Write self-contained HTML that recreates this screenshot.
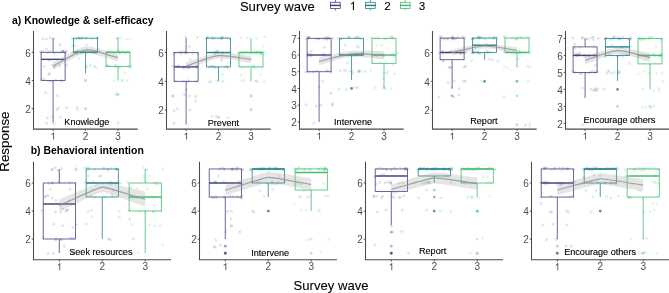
<!DOCTYPE html>
<html><head><meta charset="utf-8"><style>
html,body{margin:0;padding:0;background:#fff;}
body{width:669px;height:293px;overflow:hidden;}
svg{display:block;will-change:transform;}
text{font-family:"Liberation Sans", sans-serif;}
.tk{font-size:10px;fill:#4d4d4d;}
.lb{font-size:9.1px;fill:#000;stroke:#000;stroke-width:0.12px;}
.ti{font-size:10.45px;font-weight:bold;fill:#000;}
.big{font-size:13.1px;fill:#000;stroke:#000;stroke-width:0.1px;}
.lg{font-size:11.6px;fill:#000;stroke:#000;stroke-width:0.1px;}
</style></head><body>
<svg width="669" height="293" viewBox="0 0 669 293">
<rect width="669" height="293" fill="#fff"/>
<g><circle cx="54.08" cy="123.89" r="1.45" fill="#414487" fill-opacity="0.15"/>
<circle cx="51.29" cy="81.67" r="1.45" fill="#414487" fill-opacity="0.15"/>
<circle cx="42.85" cy="51.47" r="1.45" fill="#414487" fill-opacity="0.15"/>
<circle cx="50.28" cy="38" r="1.45" fill="#414487" fill-opacity="0.15"/>
<circle cx="47.37" cy="117.95" r="1.45" fill="#414487" fill-opacity="0.15"/>
<circle cx="44.4" cy="79.7" r="1.45" fill="#414487" fill-opacity="0.15"/>
<circle cx="41.18" cy="52.18" r="1.45" fill="#414487" fill-opacity="0.15"/>
<circle cx="48.03" cy="52.48" r="1.45" fill="#414487" fill-opacity="0.15"/>
<circle cx="58.52" cy="107.95" r="1.45" fill="#414487" fill-opacity="0.15"/>
<circle cx="59.35" cy="65.45" r="1.45" fill="#414487" fill-opacity="0.15"/>
<circle cx="60.11" cy="52.51" r="1.45" fill="#414487" fill-opacity="0.15"/>
<circle cx="60.31" cy="44.82" r="1.45" fill="#414487" fill-opacity="0.15"/>
<circle cx="55.67" cy="80" r="1.45" fill="#414487" fill-opacity="0.15"/>
<circle cx="52.39" cy="65.27" r="1.45" fill="#414487" fill-opacity="0.15"/>
<circle cx="66.54" cy="51.93" r="1.45" fill="#414487" fill-opacity="0.15"/>
<circle cx="40.09" cy="51.87" r="1.45" fill="#414487" fill-opacity="0.15"/>
<circle cx="60.41" cy="116.87" r="1.45" fill="#414487" fill-opacity="0.15"/>
<circle cx="41.67" cy="79.56" r="1.45" fill="#414487" fill-opacity="0.15"/>
<circle cx="63.02" cy="51.49" r="1.45" fill="#414487" fill-opacity="0.15"/>
<circle cx="65.58" cy="51.32" r="1.45" fill="#414487" fill-opacity="0.15"/>
<circle cx="52.69" cy="116.43" r="1.45" fill="#414487" fill-opacity="0.15"/>
<circle cx="49.54" cy="73.66" r="1.45" fill="#414487" fill-opacity="0.15"/>
<circle cx="56.31" cy="52.26" r="1.45" fill="#414487" fill-opacity="0.15"/>
<circle cx="63.31" cy="51.59" r="1.45" fill="#414487" fill-opacity="0.15"/>
<circle cx="56.76" cy="109.71" r="1.45" fill="#414487" fill-opacity="0.15"/>
<circle cx="48.74" cy="81.36" r="1.45" fill="#414487" fill-opacity="0.15"/>
<circle cx="49.38" cy="60.36" r="1.45" fill="#414487" fill-opacity="0.15"/>
<circle cx="46.35" cy="39.09" r="1.45" fill="#414487" fill-opacity="0.15"/>
<circle cx="66.54" cy="107.81" r="1.45" fill="#414487" fill-opacity="0.15"/>
<circle cx="48.81" cy="74.46" r="1.45" fill="#414487" fill-opacity="0.15"/>
<circle cx="65.39" cy="53.51" r="1.45" fill="#414487" fill-opacity="0.15"/>
<circle cx="53.87" cy="53.5" r="1.45" fill="#414487" fill-opacity="0.15"/>
<circle cx="46.59" cy="49.26" r="1.45" fill="#414487" fill-opacity="0.15"/>
<circle cx="60.71" cy="80.42" r="1.45" fill="#414487" fill-opacity="0.15"/>
<circle cx="62.71" cy="51.07" r="1.45" fill="#414487" fill-opacity="0.15"/>
<circle cx="53.58" cy="38.89" r="1.45" fill="#414487" fill-opacity="0.15"/>
<circle cx="46.54" cy="123.36" r="1.45" fill="#414487" fill-opacity="0.15"/>
<circle cx="66.4" cy="65.29" r="1.45" fill="#414487" fill-opacity="0.15"/>
<circle cx="45.65" cy="92.66" r="1.45" fill="#414487" fill-opacity="0.15"/>
<circle cx="62.38" cy="51.28" r="1.45" fill="#414487" fill-opacity="0.15"/>
<circle cx="57.48" cy="95.65" r="1.45" fill="#414487" fill-opacity="0.15"/>
<circle cx="44.34" cy="66.46" r="1.45" fill="#414487" fill-opacity="0.15"/>
<circle cx="50.26" cy="51.1" r="1.45" fill="#414487" fill-opacity="0.15"/>
<circle cx="42.93" cy="39.04" r="1.45" fill="#414487" fill-opacity="0.15"/>
<circle cx="62" cy="81.4" r="1.45" fill="#414487" fill-opacity="0.15"/>
<circle cx="54.43" cy="67.57" r="1.45" fill="#414487" fill-opacity="0.15"/>
<circle cx="86.27" cy="66.02" r="1.45" fill="#26838E" fill-opacity="0.15"/>
<circle cx="77.23" cy="107.47" r="1.45" fill="#26838E" fill-opacity="0.15"/>
<circle cx="92.74" cy="52.3" r="1.45" fill="#26838E" fill-opacity="0.15"/>
<circle cx="92.09" cy="39.31" r="1.45" fill="#26838E" fill-opacity="0.15"/>
<circle cx="94.47" cy="66.36" r="1.45" fill="#26838E" fill-opacity="0.15"/>
<circle cx="95.71" cy="52.27" r="1.45" fill="#26838E" fill-opacity="0.15"/>
<circle cx="75.78" cy="39.09" r="1.45" fill="#26838E" fill-opacity="0.15"/>
<circle cx="86.39" cy="37.74" r="1.45" fill="#26838E" fill-opacity="0.15"/>
<circle cx="77.14" cy="53.42" r="1.45" fill="#26838E" fill-opacity="0.15"/>
<circle cx="96.29" cy="53.5" r="1.45" fill="#26838E" fill-opacity="0.15"/>
<circle cx="77.36" cy="52.03" r="1.45" fill="#26838E" fill-opacity="0.15"/>
<circle cx="78.67" cy="38.18" r="1.45" fill="#26838E" fill-opacity="0.15"/>
<circle cx="96.26" cy="51.23" r="1.45" fill="#26838E" fill-opacity="0.15"/>
<circle cx="80.53" cy="52.57" r="1.45" fill="#26838E" fill-opacity="0.15"/>
<circle cx="75.26" cy="45.75" r="1.45" fill="#26838E" fill-opacity="0.15"/>
<circle cx="78.82" cy="38.54" r="1.45" fill="#26838E" fill-opacity="0.15"/>
<circle cx="96.04" cy="67.43" r="1.45" fill="#26838E" fill-opacity="0.15"/>
<circle cx="99.02" cy="51.78" r="1.45" fill="#26838E" fill-opacity="0.15"/>
<circle cx="81.9" cy="53.34" r="1.45" fill="#26838E" fill-opacity="0.15"/>
<circle cx="86.03" cy="38.49" r="1.45" fill="#26838E" fill-opacity="0.15"/>
<circle cx="78.15" cy="51.24" r="1.45" fill="#26838E" fill-opacity="0.15"/>
<circle cx="76.87" cy="51.27" r="1.45" fill="#26838E" fill-opacity="0.15"/>
<circle cx="97.71" cy="37.75" r="1.45" fill="#26838E" fill-opacity="0.15"/>
<circle cx="80.84" cy="38.21" r="1.45" fill="#26838E" fill-opacity="0.15"/>
<circle cx="79.25" cy="58.35" r="1.45" fill="#26838E" fill-opacity="0.15"/>
<circle cx="77.98" cy="52.03" r="1.45" fill="#26838E" fill-opacity="0.15"/>
<circle cx="83.31" cy="51.05" r="1.45" fill="#26838E" fill-opacity="0.15"/>
<circle cx="97.49" cy="37.67" r="1.45" fill="#26838E" fill-opacity="0.15"/>
<circle cx="77.42" cy="109.84" r="1.45" fill="#26838E" fill-opacity="0.15"/>
<circle cx="85.55" cy="52.83" r="1.45" fill="#26838E" fill-opacity="0.15"/>
<circle cx="72.34" cy="45.88" r="1.45" fill="#26838E" fill-opacity="0.15"/>
<circle cx="97.4" cy="38.26" r="1.45" fill="#26838E" fill-opacity="0.15"/>
<circle cx="94.67" cy="52.31" r="1.45" fill="#26838E" fill-opacity="0.15"/>
<circle cx="81.26" cy="51.08" r="1.45" fill="#26838E" fill-opacity="0.15"/>
<circle cx="81.39" cy="38.44" r="1.45" fill="#26838E" fill-opacity="0.15"/>
<circle cx="78.89" cy="37.59" r="1.45" fill="#26838E" fill-opacity="0.15"/>
<circle cx="90.2" cy="65.46" r="1.45" fill="#26838E" fill-opacity="0.15"/>
<circle cx="76.22" cy="52.4" r="1.45" fill="#26838E" fill-opacity="0.15"/>
<circle cx="86.83" cy="51.1" r="1.45" fill="#26838E" fill-opacity="0.15"/>
<circle cx="71.95" cy="38.56" r="1.45" fill="#26838E" fill-opacity="0.15"/>
<circle cx="85.68" cy="67.16" r="1.45" fill="#26838E" fill-opacity="0.15"/>
<circle cx="73.06" cy="52.56" r="1.45" fill="#26838E" fill-opacity="0.15"/>
<circle cx="86.35" cy="45.03" r="1.45" fill="#26838E" fill-opacity="0.15"/>
<circle cx="82.54" cy="37.24" r="1.45" fill="#26838E" fill-opacity="0.15"/>
<circle cx="89.45" cy="51.73" r="1.45" fill="#26838E" fill-opacity="0.15"/>
<circle cx="91.92" cy="51.98" r="1.45" fill="#26838E" fill-opacity="0.15"/>
<circle cx="127.13" cy="80.49" r="1.45" fill="#43BF71" fill-opacity="0.15"/>
<circle cx="122.99" cy="51.3" r="1.45" fill="#43BF71" fill-opacity="0.15"/>
<circle cx="114.2" cy="53.23" r="1.45" fill="#43BF71" fill-opacity="0.15"/>
<circle cx="121.44" cy="37.88" r="1.45" fill="#43BF71" fill-opacity="0.15"/>
<circle cx="124.77" cy="72.69" r="1.45" fill="#43BF71" fill-opacity="0.15"/>
<circle cx="124.45" cy="53.4" r="1.45" fill="#43BF71" fill-opacity="0.15"/>
<circle cx="109.96" cy="51.72" r="1.45" fill="#43BF71" fill-opacity="0.15"/>
<circle cx="117.43" cy="38.5" r="1.45" fill="#43BF71" fill-opacity="0.15"/>
<circle cx="106.48" cy="66.04" r="1.45" fill="#43BF71" fill-opacity="0.15"/>
<circle cx="119.85" cy="66.9" r="1.45" fill="#43BF71" fill-opacity="0.15"/>
<circle cx="123.24" cy="51.86" r="1.45" fill="#43BF71" fill-opacity="0.15"/>
<circle cx="117.08" cy="52.39" r="1.45" fill="#43BF71" fill-opacity="0.15"/>
<circle cx="129.89" cy="65.19" r="1.45" fill="#43BF71" fill-opacity="0.15"/>
<circle cx="116.62" cy="65.21" r="1.45" fill="#43BF71" fill-opacity="0.15"/>
<circle cx="120.22" cy="53.03" r="1.45" fill="#43BF71" fill-opacity="0.15"/>
<circle cx="126.73" cy="39.13" r="1.45" fill="#43BF71" fill-opacity="0.15"/>
<circle cx="128.84" cy="67.08" r="1.45" fill="#43BF71" fill-opacity="0.15"/>
<circle cx="116.66" cy="66.42" r="1.45" fill="#43BF71" fill-opacity="0.15"/>
<circle cx="127.27" cy="52.77" r="1.45" fill="#43BF71" fill-opacity="0.15"/>
<circle cx="129.62" cy="39.16" r="1.45" fill="#43BF71" fill-opacity="0.15"/>
<circle cx="115.08" cy="66.72" r="1.45" fill="#43BF71" fill-opacity="0.15"/>
<circle cx="116.04" cy="94.95" r="1.45" fill="#43BF71" fill-opacity="0.15"/>
<circle cx="112.16" cy="51.45" r="1.45" fill="#43BF71" fill-opacity="0.15"/>
<circle cx="116.26" cy="93.4" r="1.45" fill="#43BF71" fill-opacity="0.15"/>
<circle cx="105.16" cy="66.58" r="1.45" fill="#43BF71" fill-opacity="0.15"/>
<circle cx="109.92" cy="66.26" r="1.45" fill="#43BF71" fill-opacity="0.15"/>
<circle cx="108.15" cy="52.01" r="1.45" fill="#43BF71" fill-opacity="0.15"/>
<circle cx="109.03" cy="52.17" r="1.45" fill="#43BF71" fill-opacity="0.15"/>
<circle cx="122.17" cy="79.89" r="1.45" fill="#43BF71" fill-opacity="0.15"/>
<circle cx="107.63" cy="65.97" r="1.45" fill="#43BF71" fill-opacity="0.15"/>
<circle cx="119.37" cy="51.51" r="1.45" fill="#43BF71" fill-opacity="0.15"/>
<circle cx="119.3" cy="52.48" r="1.45" fill="#43BF71" fill-opacity="0.15"/>
<circle cx="114.41" cy="80.96" r="1.45" fill="#43BF71" fill-opacity="0.15"/>
<circle cx="114.81" cy="65.46" r="1.45" fill="#43BF71" fill-opacity="0.15"/>
<circle cx="117.95" cy="51.66" r="1.45" fill="#43BF71" fill-opacity="0.15"/>
<circle cx="125.91" cy="52.23" r="1.45" fill="#43BF71" fill-opacity="0.15"/>
<circle cx="121.97" cy="80.79" r="1.45" fill="#43BF71" fill-opacity="0.15"/>
<circle cx="107.84" cy="65.21" r="1.45" fill="#43BF71" fill-opacity="0.15"/>
<circle cx="117.72" cy="51.11" r="1.45" fill="#43BF71" fill-opacity="0.15"/>
<circle cx="117.13" cy="38.13" r="1.45" fill="#43BF71" fill-opacity="0.15"/>
<circle cx="130.86" cy="67.28" r="1.45" fill="#43BF71" fill-opacity="0.15"/>
<circle cx="128.76" cy="51.42" r="1.45" fill="#43BF71" fill-opacity="0.15"/>
<circle cx="119.89" cy="53.25" r="1.45" fill="#43BF71" fill-opacity="0.15"/>
<circle cx="118.77" cy="37.88" r="1.45" fill="#43BF71" fill-opacity="0.15"/>
<circle cx="130.09" cy="66.91" r="1.45" fill="#43BF71" fill-opacity="0.15"/>
<circle cx="119.02" cy="67.67" r="1.45" fill="#43BF71" fill-opacity="0.15"/>
<circle cx="195.35" cy="100.9" r="1.45" fill="#414487" fill-opacity="0.15"/>
<circle cx="183.7" cy="68.12" r="1.45" fill="#414487" fill-opacity="0.15"/>
<circle cx="190.11" cy="65.9" r="1.45" fill="#414487" fill-opacity="0.15"/>
<circle cx="185.91" cy="52.84" r="1.45" fill="#414487" fill-opacity="0.15"/>
<circle cx="172.66" cy="95.97" r="1.45" fill="#414487" fill-opacity="0.15"/>
<circle cx="177.93" cy="66.91" r="1.45" fill="#414487" fill-opacity="0.15"/>
<circle cx="196.71" cy="67.51" r="1.45" fill="#414487" fill-opacity="0.15"/>
<circle cx="185.69" cy="37.07" r="1.45" fill="#414487" fill-opacity="0.15"/>
<circle cx="173.95" cy="123.41" r="1.45" fill="#414487" fill-opacity="0.15"/>
<circle cx="177.49" cy="66.36" r="1.45" fill="#414487" fill-opacity="0.15"/>
<circle cx="174.63" cy="53.5" r="1.45" fill="#414487" fill-opacity="0.15"/>
<circle cx="185.22" cy="52.44" r="1.45" fill="#414487" fill-opacity="0.15"/>
<circle cx="184.53" cy="94.44" r="1.45" fill="#414487" fill-opacity="0.15"/>
<circle cx="196.6" cy="81.51" r="1.45" fill="#414487" fill-opacity="0.15"/>
<circle cx="180.89" cy="51.8" r="1.45" fill="#414487" fill-opacity="0.15"/>
<circle cx="187.23" cy="53.29" r="1.45" fill="#414487" fill-opacity="0.15"/>
<circle cx="189.69" cy="110.17" r="1.45" fill="#414487" fill-opacity="0.15"/>
<circle cx="185.12" cy="67.22" r="1.45" fill="#414487" fill-opacity="0.15"/>
<circle cx="188.98" cy="68.03" r="1.45" fill="#414487" fill-opacity="0.15"/>
<circle cx="192.82" cy="53.68" r="1.45" fill="#414487" fill-opacity="0.15"/>
<circle cx="188.7" cy="80.73" r="1.45" fill="#414487" fill-opacity="0.15"/>
<circle cx="175.39" cy="66.05" r="1.45" fill="#414487" fill-opacity="0.15"/>
<circle cx="197.37" cy="66.15" r="1.45" fill="#414487" fill-opacity="0.15"/>
<circle cx="197.85" cy="53.77" r="1.45" fill="#414487" fill-opacity="0.15"/>
<circle cx="195.95" cy="96.38" r="1.45" fill="#414487" fill-opacity="0.15"/>
<circle cx="183.15" cy="66.87" r="1.45" fill="#414487" fill-opacity="0.15"/>
<circle cx="187.32" cy="66.95" r="1.45" fill="#414487" fill-opacity="0.15"/>
<circle cx="189.5" cy="46.41" r="1.45" fill="#414487" fill-opacity="0.15"/>
<circle cx="177.19" cy="108.88" r="1.45" fill="#414487" fill-opacity="0.15"/>
<circle cx="187.15" cy="81.99" r="1.45" fill="#414487" fill-opacity="0.15"/>
<circle cx="180.09" cy="53.03" r="1.45" fill="#414487" fill-opacity="0.15"/>
<circle cx="177.53" cy="52.66" r="1.45" fill="#414487" fill-opacity="0.15"/>
<circle cx="174.24" cy="110.91" r="1.45" fill="#414487" fill-opacity="0.15"/>
<circle cx="175.21" cy="80.91" r="1.45" fill="#414487" fill-opacity="0.15"/>
<circle cx="178.77" cy="65.91" r="1.45" fill="#414487" fill-opacity="0.15"/>
<circle cx="173.84" cy="53.19" r="1.45" fill="#414487" fill-opacity="0.15"/>
<circle cx="186.45" cy="89.6" r="1.45" fill="#414487" fill-opacity="0.15"/>
<circle cx="172.64" cy="66.47" r="1.45" fill="#414487" fill-opacity="0.15"/>
<circle cx="181.74" cy="53.7" r="1.45" fill="#414487" fill-opacity="0.15"/>
<circle cx="197.38" cy="37.5" r="1.45" fill="#414487" fill-opacity="0.15"/>
<circle cx="189.4" cy="96.03" r="1.45" fill="#414487" fill-opacity="0.15"/>
<circle cx="183.6" cy="81.34" r="1.45" fill="#414487" fill-opacity="0.15"/>
<circle cx="190.27" cy="59.61" r="1.45" fill="#414487" fill-opacity="0.15"/>
<circle cx="183.86" cy="52.07" r="1.45" fill="#414487" fill-opacity="0.15"/>
<circle cx="172.97" cy="95.92" r="1.45" fill="#414487" fill-opacity="0.15"/>
<circle cx="183.51" cy="67.18" r="1.45" fill="#414487" fill-opacity="0.15"/>
<circle cx="216.47" cy="116.26" r="1.45" fill="#26838E" fill-opacity="0.15"/>
<circle cx="209.35" cy="67" r="1.45" fill="#26838E" fill-opacity="0.15"/>
<circle cx="207.35" cy="37.04" r="1.45" fill="#26838E" fill-opacity="0.15"/>
<circle cx="212.64" cy="39.02" r="1.45" fill="#26838E" fill-opacity="0.15"/>
<circle cx="226.86" cy="66.92" r="1.45" fill="#26838E" fill-opacity="0.15"/>
<circle cx="227.74" cy="117.81" r="1.45" fill="#26838E" fill-opacity="0.15"/>
<circle cx="222.27" cy="37.82" r="1.45" fill="#26838E" fill-opacity="0.15"/>
<circle cx="222.37" cy="37.09" r="1.45" fill="#26838E" fill-opacity="0.15"/>
<circle cx="217.81" cy="67.69" r="1.45" fill="#26838E" fill-opacity="0.15"/>
<circle cx="214.71" cy="67.79" r="1.45" fill="#26838E" fill-opacity="0.15"/>
<circle cx="229.01" cy="38.9" r="1.45" fill="#26838E" fill-opacity="0.15"/>
<circle cx="215.55" cy="38.56" r="1.45" fill="#26838E" fill-opacity="0.15"/>
<circle cx="213.32" cy="66.51" r="1.45" fill="#26838E" fill-opacity="0.15"/>
<circle cx="209.79" cy="66.89" r="1.45" fill="#26838E" fill-opacity="0.15"/>
<circle cx="221.78" cy="38.24" r="1.45" fill="#26838E" fill-opacity="0.15"/>
<circle cx="206.75" cy="38.36" r="1.45" fill="#26838E" fill-opacity="0.15"/>
<circle cx="222.83" cy="81.29" r="1.45" fill="#26838E" fill-opacity="0.15"/>
<circle cx="224.56" cy="67.38" r="1.45" fill="#26838E" fill-opacity="0.15"/>
<circle cx="226.3" cy="37.7" r="1.45" fill="#26838E" fill-opacity="0.15"/>
<circle cx="207.91" cy="37.6" r="1.45" fill="#26838E" fill-opacity="0.15"/>
<circle cx="226.59" cy="66.09" r="1.45" fill="#26838E" fill-opacity="0.15"/>
<circle cx="221.56" cy="58.84" r="1.45" fill="#26838E" fill-opacity="0.15"/>
<circle cx="217.36" cy="51.45" r="1.45" fill="#26838E" fill-opacity="0.15"/>
<circle cx="221.71" cy="37.86" r="1.45" fill="#26838E" fill-opacity="0.15"/>
<circle cx="222.27" cy="74.35" r="1.45" fill="#26838E" fill-opacity="0.15"/>
<circle cx="212.13" cy="66.14" r="1.45" fill="#26838E" fill-opacity="0.15"/>
<circle cx="217.27" cy="51.29" r="1.45" fill="#26838E" fill-opacity="0.15"/>
<circle cx="219.52" cy="38.74" r="1.45" fill="#26838E" fill-opacity="0.15"/>
<circle cx="214.98" cy="67.22" r="1.45" fill="#26838E" fill-opacity="0.15"/>
<circle cx="221.69" cy="60.4" r="1.45" fill="#26838E" fill-opacity="0.15"/>
<circle cx="211.84" cy="116.47" r="1.45" fill="#26838E" fill-opacity="0.15"/>
<circle cx="213.44" cy="37.68" r="1.45" fill="#26838E" fill-opacity="0.15"/>
<circle cx="216.7" cy="81" r="1.45" fill="#26838E" fill-opacity="0.15"/>
<circle cx="222.72" cy="53.21" r="1.45" fill="#26838E" fill-opacity="0.15"/>
<circle cx="214.66" cy="53.52" r="1.45" fill="#26838E" fill-opacity="0.15"/>
<circle cx="221.93" cy="38.87" r="1.45" fill="#26838E" fill-opacity="0.15"/>
<circle cx="208.99" cy="81.96" r="1.45" fill="#26838E" fill-opacity="0.15"/>
<circle cx="215.88" cy="51.77" r="1.45" fill="#26838E" fill-opacity="0.15"/>
<circle cx="214.47" cy="52.34" r="1.45" fill="#26838E" fill-opacity="0.15"/>
<circle cx="211.69" cy="37.49" r="1.45" fill="#26838E" fill-opacity="0.15"/>
<circle cx="211.4" cy="81.54" r="1.45" fill="#26838E" fill-opacity="0.15"/>
<circle cx="230.57" cy="52.37" r="1.45" fill="#26838E" fill-opacity="0.15"/>
<circle cx="222.41" cy="52.48" r="1.45" fill="#26838E" fill-opacity="0.15"/>
<circle cx="206.24" cy="38.62" r="1.45" fill="#26838E" fill-opacity="0.15"/>
<circle cx="227.94" cy="68.18" r="1.45" fill="#26838E" fill-opacity="0.15"/>
<circle cx="211.08" cy="67.02" r="1.45" fill="#26838E" fill-opacity="0.15"/>
<circle cx="257.81" cy="81.73" r="1.45" fill="#43BF71" fill-opacity="0.15"/>
<circle cx="252.47" cy="53.11" r="1.45" fill="#43BF71" fill-opacity="0.15"/>
<circle cx="254.87" cy="53.11" r="1.45" fill="#43BF71" fill-opacity="0.15"/>
<circle cx="251.2" cy="96.77" r="1.45" fill="#43BF71" fill-opacity="0.15"/>
<circle cx="241.71" cy="67.67" r="1.45" fill="#43BF71" fill-opacity="0.15"/>
<circle cx="247.71" cy="66.64" r="1.45" fill="#43BF71" fill-opacity="0.15"/>
<circle cx="251.99" cy="51.61" r="1.45" fill="#43BF71" fill-opacity="0.15"/>
<circle cx="263.42" cy="46.53" r="1.45" fill="#43BF71" fill-opacity="0.15"/>
<circle cx="253.33" cy="67.18" r="1.45" fill="#43BF71" fill-opacity="0.15"/>
<circle cx="254.32" cy="67.91" r="1.45" fill="#43BF71" fill-opacity="0.15"/>
<circle cx="241.14" cy="53.72" r="1.45" fill="#43BF71" fill-opacity="0.15"/>
<circle cx="260.72" cy="53.67" r="1.45" fill="#43BF71" fill-opacity="0.15"/>
<circle cx="255.47" cy="81.21" r="1.45" fill="#43BF71" fill-opacity="0.15"/>
<circle cx="244.09" cy="52.8" r="1.45" fill="#43BF71" fill-opacity="0.15"/>
<circle cx="257.92" cy="51.43" r="1.45" fill="#43BF71" fill-opacity="0.15"/>
<circle cx="240.99" cy="38.16" r="1.45" fill="#43BF71" fill-opacity="0.15"/>
<circle cx="244.49" cy="67.32" r="1.45" fill="#43BF71" fill-opacity="0.15"/>
<circle cx="262.18" cy="51.83" r="1.45" fill="#43BF71" fill-opacity="0.15"/>
<circle cx="257.7" cy="53.05" r="1.45" fill="#43BF71" fill-opacity="0.15"/>
<circle cx="250.15" cy="53.54" r="1.45" fill="#43BF71" fill-opacity="0.15"/>
<circle cx="253.03" cy="66.05" r="1.45" fill="#43BF71" fill-opacity="0.15"/>
<circle cx="257.83" cy="67.45" r="1.45" fill="#43BF71" fill-opacity="0.15"/>
<circle cx="259.87" cy="51.99" r="1.45" fill="#43BF71" fill-opacity="0.15"/>
<circle cx="251.41" cy="108.91" r="1.45" fill="#43BF71" fill-opacity="0.15"/>
<circle cx="243.68" cy="80.16" r="1.45" fill="#43BF71" fill-opacity="0.15"/>
<circle cx="264.39" cy="52.53" r="1.45" fill="#43BF71" fill-opacity="0.15"/>
<circle cx="262.68" cy="53.55" r="1.45" fill="#43BF71" fill-opacity="0.15"/>
<circle cx="247.51" cy="37.72" r="1.45" fill="#43BF71" fill-opacity="0.15"/>
<circle cx="264.15" cy="82.15" r="1.45" fill="#43BF71" fill-opacity="0.15"/>
<circle cx="256.16" cy="52.26" r="1.45" fill="#43BF71" fill-opacity="0.15"/>
<circle cx="261.03" cy="52.44" r="1.45" fill="#43BF71" fill-opacity="0.15"/>
<circle cx="256.15" cy="38.2" r="1.45" fill="#43BF71" fill-opacity="0.15"/>
<circle cx="256.36" cy="80.93" r="1.45" fill="#43BF71" fill-opacity="0.15"/>
<circle cx="254.2" cy="66.05" r="1.45" fill="#43BF71" fill-opacity="0.15"/>
<circle cx="246.87" cy="52.23" r="1.45" fill="#43BF71" fill-opacity="0.15"/>
<circle cx="264.49" cy="36.92" r="1.45" fill="#43BF71" fill-opacity="0.15"/>
<circle cx="241.41" cy="75" r="1.45" fill="#43BF71" fill-opacity="0.15"/>
<circle cx="262.21" cy="67.91" r="1.45" fill="#43BF71" fill-opacity="0.15"/>
<circle cx="260.66" cy="53.76" r="1.45" fill="#43BF71" fill-opacity="0.15"/>
<circle cx="237.97" cy="53.03" r="1.45" fill="#43BF71" fill-opacity="0.15"/>
<circle cx="260.62" cy="74.77" r="1.45" fill="#43BF71" fill-opacity="0.15"/>
<circle cx="255.58" cy="51.6" r="1.45" fill="#43BF71" fill-opacity="0.15"/>
<circle cx="243.6" cy="52.28" r="1.45" fill="#43BF71" fill-opacity="0.15"/>
<circle cx="256.47" cy="53.12" r="1.45" fill="#43BF71" fill-opacity="0.15"/>
<circle cx="241.64" cy="80.75" r="1.45" fill="#43BF71" fill-opacity="0.15"/>
<circle cx="251.5" cy="58.77" r="1.45" fill="#43BF71" fill-opacity="0.15"/>
<circle cx="305.76" cy="72.26" r="1.45" fill="#414487" fill-opacity="0.15"/>
<circle cx="311.41" cy="55.77" r="1.45" fill="#414487" fill-opacity="0.15"/>
<circle cx="328.56" cy="38.76" r="1.45" fill="#414487" fill-opacity="0.15"/>
<circle cx="327.07" cy="39.76" r="1.45" fill="#414487" fill-opacity="0.15"/>
<circle cx="332.46" cy="105.31" r="1.45" fill="#414487" fill-opacity="0.15"/>
<circle cx="322.21" cy="54.33" r="1.45" fill="#414487" fill-opacity="0.15"/>
<circle cx="307.52" cy="56.34" r="1.45" fill="#414487" fill-opacity="0.15"/>
<circle cx="308.45" cy="38.06" r="1.45" fill="#414487" fill-opacity="0.15"/>
<circle cx="332.57" cy="103.76" r="1.45" fill="#414487" fill-opacity="0.15"/>
<circle cx="330.81" cy="93.27" r="1.45" fill="#414487" fill-opacity="0.15"/>
<circle cx="325.12" cy="37.87" r="1.45" fill="#414487" fill-opacity="0.15"/>
<circle cx="327.15" cy="37.3" r="1.45" fill="#414487" fill-opacity="0.15"/>
<circle cx="326.73" cy="71.29" r="1.45" fill="#414487" fill-opacity="0.15"/>
<circle cx="324.21" cy="54.41" r="1.45" fill="#414487" fill-opacity="0.15"/>
<circle cx="327.43" cy="70.58" r="1.45" fill="#414487" fill-opacity="0.15"/>
<circle cx="318.69" cy="38.84" r="1.45" fill="#414487" fill-opacity="0.15"/>
<circle cx="313.73" cy="122.95" r="1.45" fill="#414487" fill-opacity="0.15"/>
<circle cx="331.16" cy="72.27" r="1.45" fill="#414487" fill-opacity="0.15"/>
<circle cx="311.19" cy="54.55" r="1.45" fill="#414487" fill-opacity="0.15"/>
<circle cx="328.75" cy="38.06" r="1.45" fill="#414487" fill-opacity="0.15"/>
<circle cx="316.44" cy="106.06" r="1.45" fill="#414487" fill-opacity="0.15"/>
<circle cx="307.94" cy="53.58" r="1.45" fill="#414487" fill-opacity="0.15"/>
<circle cx="318.95" cy="38.91" r="1.45" fill="#414487" fill-opacity="0.15"/>
<circle cx="308.66" cy="37.78" r="1.45" fill="#414487" fill-opacity="0.15"/>
<circle cx="320.66" cy="105.26" r="1.45" fill="#414487" fill-opacity="0.15"/>
<circle cx="309.96" cy="55.78" r="1.45" fill="#414487" fill-opacity="0.15"/>
<circle cx="324.44" cy="47.2" r="1.45" fill="#414487" fill-opacity="0.15"/>
<circle cx="332.73" cy="38.52" r="1.45" fill="#414487" fill-opacity="0.15"/>
<circle cx="306.03" cy="104.74" r="1.45" fill="#414487" fill-opacity="0.15"/>
<circle cx="308.03" cy="54.09" r="1.45" fill="#414487" fill-opacity="0.15"/>
<circle cx="316.8" cy="39.16" r="1.45" fill="#414487" fill-opacity="0.15"/>
<circle cx="326.69" cy="38.78" r="1.45" fill="#414487" fill-opacity="0.15"/>
<circle cx="312.33" cy="72.22" r="1.45" fill="#414487" fill-opacity="0.15"/>
<circle cx="314.57" cy="71.76" r="1.45" fill="#414487" fill-opacity="0.15"/>
<circle cx="311.02" cy="51.51" r="1.45" fill="#414487" fill-opacity="0.15"/>
<circle cx="308.95" cy="37.66" r="1.45" fill="#414487" fill-opacity="0.15"/>
<circle cx="308.43" cy="72.05" r="1.45" fill="#414487" fill-opacity="0.15"/>
<circle cx="307.11" cy="37.5" r="1.45" fill="#414487" fill-opacity="0.15"/>
<circle cx="323.83" cy="39.36" r="1.45" fill="#414487" fill-opacity="0.15"/>
<circle cx="322.74" cy="81.49" r="1.45" fill="#414487" fill-opacity="0.15"/>
<circle cx="316.96" cy="70.63" r="1.45" fill="#414487" fill-opacity="0.15"/>
<circle cx="309.25" cy="37.18" r="1.45" fill="#414487" fill-opacity="0.15"/>
<circle cx="306.4" cy="39.25" r="1.45" fill="#414487" fill-opacity="0.15"/>
<circle cx="319.04" cy="87.21" r="1.45" fill="#414487" fill-opacity="0.15"/>
<circle cx="324.43" cy="55.26" r="1.45" fill="#414487" fill-opacity="0.15"/>
<circle cx="364.99" cy="71.46" r="1.45" fill="#26838E" fill-opacity="0.15"/>
<circle cx="340.18" cy="54.87" r="1.45" fill="#26838E" fill-opacity="0.15"/>
<circle cx="338.18" cy="38.52" r="1.45" fill="#26838E" fill-opacity="0.15"/>
<circle cx="341.23" cy="39.15" r="1.45" fill="#26838E" fill-opacity="0.15"/>
<circle cx="358.21" cy="71.89" r="1.45" fill="#26838E" fill-opacity="0.15"/>
<circle cx="357.37" cy="87.64" r="1.45" fill="#26838E" fill-opacity="0.15"/>
<circle cx="357.25" cy="46.27" r="1.45" fill="#26838E" fill-opacity="0.15"/>
<circle cx="357.47" cy="36.9" r="1.45" fill="#26838E" fill-opacity="0.15"/>
<circle cx="340.09" cy="70.78" r="1.45" fill="#26838E" fill-opacity="0.15"/>
<circle cx="351.18" cy="53.93" r="1.45" fill="#26838E" fill-opacity="0.15"/>
<circle cx="356.37" cy="55.2" r="1.45" fill="#26838E" fill-opacity="0.15"/>
<circle cx="355.09" cy="37.86" r="1.45" fill="#26838E" fill-opacity="0.15"/>
<circle cx="359.31" cy="70.4" r="1.45" fill="#26838E" fill-opacity="0.15"/>
<circle cx="357.09" cy="53.59" r="1.45" fill="#26838E" fill-opacity="0.15"/>
<circle cx="360.58" cy="53.58" r="1.45" fill="#26838E" fill-opacity="0.15"/>
<circle cx="348.19" cy="37.13" r="1.45" fill="#26838E" fill-opacity="0.15"/>
<circle cx="345.64" cy="70.81" r="1.45" fill="#26838E" fill-opacity="0.15"/>
<circle cx="360.16" cy="54.76" r="1.45" fill="#26838E" fill-opacity="0.15"/>
<circle cx="361.56" cy="54.08" r="1.45" fill="#26838E" fill-opacity="0.15"/>
<circle cx="356.58" cy="37.38" r="1.45" fill="#26838E" fill-opacity="0.15"/>
<circle cx="359.66" cy="71.58" r="1.45" fill="#26838E" fill-opacity="0.15"/>
<circle cx="354.46" cy="55.82" r="1.45" fill="#26838E" fill-opacity="0.15"/>
<circle cx="358.4" cy="47.4" r="1.45" fill="#26838E" fill-opacity="0.15"/>
<circle cx="358.97" cy="37.38" r="1.45" fill="#26838E" fill-opacity="0.15"/>
<circle cx="352.15" cy="70.58" r="1.45" fill="#26838E" fill-opacity="0.15"/>
<circle cx="342.85" cy="55.95" r="1.45" fill="#26838E" fill-opacity="0.15"/>
<circle cx="352.02" cy="55.31" r="1.45" fill="#26838E" fill-opacity="0.15"/>
<circle cx="340.81" cy="38.68" r="1.45" fill="#26838E" fill-opacity="0.15"/>
<circle cx="347.32" cy="63.09" r="1.45" fill="#26838E" fill-opacity="0.15"/>
<circle cx="361.53" cy="53.54" r="1.45" fill="#26838E" fill-opacity="0.15"/>
<circle cx="349.53" cy="37.46" r="1.45" fill="#26838E" fill-opacity="0.15"/>
<circle cx="338.95" cy="89.2" r="1.45" fill="#26838E" fill-opacity="0.15"/>
<circle cx="353.11" cy="73.09" r="1.45" fill="#26838E" fill-opacity="0.15"/>
<circle cx="339.67" cy="53.79" r="1.45" fill="#26838E" fill-opacity="0.15"/>
<circle cx="344.93" cy="45.28" r="1.45" fill="#26838E" fill-opacity="0.15"/>
<circle cx="348.64" cy="37.79" r="1.45" fill="#26838E" fill-opacity="0.15"/>
<circle cx="343.96" cy="70.26" r="1.45" fill="#26838E" fill-opacity="0.15"/>
<circle cx="362.58" cy="53.81" r="1.45" fill="#26838E" fill-opacity="0.15"/>
<circle cx="355.55" cy="54.39" r="1.45" fill="#26838E" fill-opacity="0.15"/>
<circle cx="346.58" cy="89.66" r="1.45" fill="#26838E" fill-opacity="0.15"/>
<circle cx="349.95" cy="71.47" r="1.45" fill="#26838E" fill-opacity="0.15"/>
<circle cx="348.14" cy="55.35" r="1.45" fill="#26838E" fill-opacity="0.15"/>
<circle cx="362.24" cy="53.77" r="1.45" fill="#26838E" fill-opacity="0.15"/>
<circle cx="360.62" cy="39.33" r="1.45" fill="#26838E" fill-opacity="0.15"/>
<circle cx="359.14" cy="70.99" r="1.45" fill="#26838E" fill-opacity="0.15"/>
<circle cx="355.05" cy="87.43" r="1.45" fill="#26838E" fill-opacity="0.15"/>
<circle cx="387.49" cy="71.81" r="1.45" fill="#43BF71" fill-opacity="0.15"/>
<circle cx="385.45" cy="62.74" r="1.45" fill="#43BF71" fill-opacity="0.15"/>
<circle cx="374.61" cy="38.57" r="1.45" fill="#43BF71" fill-opacity="0.15"/>
<circle cx="383.75" cy="39.3" r="1.45" fill="#43BF71" fill-opacity="0.15"/>
<circle cx="371.92" cy="61.94" r="1.45" fill="#43BF71" fill-opacity="0.15"/>
<circle cx="378.17" cy="55.09" r="1.45" fill="#43BF71" fill-opacity="0.15"/>
<circle cx="397.58" cy="53.54" r="1.45" fill="#43BF71" fill-opacity="0.15"/>
<circle cx="370.81" cy="70.3" r="1.45" fill="#43BF71" fill-opacity="0.15"/>
<circle cx="393.06" cy="64.88" r="1.45" fill="#43BF71" fill-opacity="0.15"/>
<circle cx="376.32" cy="53.78" r="1.45" fill="#43BF71" fill-opacity="0.15"/>
<circle cx="389.77" cy="37.49" r="1.45" fill="#43BF71" fill-opacity="0.15"/>
<circle cx="383.88" cy="88.13" r="1.45" fill="#43BF71" fill-opacity="0.15"/>
<circle cx="392.49" cy="54.39" r="1.45" fill="#43BF71" fill-opacity="0.15"/>
<circle cx="381.5" cy="54.32" r="1.45" fill="#43BF71" fill-opacity="0.15"/>
<circle cx="393.32" cy="38.8" r="1.45" fill="#43BF71" fill-opacity="0.15"/>
<circle cx="383.36" cy="78.87" r="1.45" fill="#43BF71" fill-opacity="0.15"/>
<circle cx="380.38" cy="62.38" r="1.45" fill="#43BF71" fill-opacity="0.15"/>
<circle cx="384.54" cy="56.51" r="1.45" fill="#43BF71" fill-opacity="0.15"/>
<circle cx="392.63" cy="37.65" r="1.45" fill="#43BF71" fill-opacity="0.15"/>
<circle cx="390.85" cy="88.82" r="1.45" fill="#43BF71" fill-opacity="0.15"/>
<circle cx="384.36" cy="55.04" r="1.45" fill="#43BF71" fill-opacity="0.15"/>
<circle cx="376.47" cy="45.25" r="1.45" fill="#43BF71" fill-opacity="0.15"/>
<circle cx="371.19" cy="37.35" r="1.45" fill="#43BF71" fill-opacity="0.15"/>
<circle cx="386.71" cy="73.19" r="1.45" fill="#43BF71" fill-opacity="0.15"/>
<circle cx="394.07" cy="56.22" r="1.45" fill="#43BF71" fill-opacity="0.15"/>
<circle cx="384.02" cy="55.04" r="1.45" fill="#43BF71" fill-opacity="0.15"/>
<circle cx="386.5" cy="39.39" r="1.45" fill="#43BF71" fill-opacity="0.15"/>
<circle cx="374.85" cy="87.72" r="1.45" fill="#43BF71" fill-opacity="0.15"/>
<circle cx="393.26" cy="55.26" r="1.45" fill="#43BF71" fill-opacity="0.15"/>
<circle cx="379.6" cy="54.19" r="1.45" fill="#43BF71" fill-opacity="0.15"/>
<circle cx="392.3" cy="36.85" r="1.45" fill="#43BF71" fill-opacity="0.15"/>
<circle cx="384.47" cy="73.08" r="1.45" fill="#43BF71" fill-opacity="0.15"/>
<circle cx="381.88" cy="45.64" r="1.45" fill="#43BF71" fill-opacity="0.15"/>
<circle cx="382.17" cy="56.32" r="1.45" fill="#43BF71" fill-opacity="0.15"/>
<circle cx="391.54" cy="36.89" r="1.45" fill="#43BF71" fill-opacity="0.15"/>
<circle cx="394.48" cy="74.17" r="1.45" fill="#43BF71" fill-opacity="0.15"/>
<circle cx="388.86" cy="55.72" r="1.45" fill="#43BF71" fill-opacity="0.15"/>
<circle cx="377.2" cy="37.94" r="1.45" fill="#43BF71" fill-opacity="0.15"/>
<circle cx="378.7" cy="38.94" r="1.45" fill="#43BF71" fill-opacity="0.15"/>
<circle cx="384.38" cy="87.09" r="1.45" fill="#43BF71" fill-opacity="0.15"/>
<circle cx="373.75" cy="56.08" r="1.45" fill="#43BF71" fill-opacity="0.15"/>
<circle cx="377.01" cy="55.66" r="1.45" fill="#43BF71" fill-opacity="0.15"/>
<circle cx="385.91" cy="37.97" r="1.45" fill="#43BF71" fill-opacity="0.15"/>
<circle cx="385.31" cy="88.58" r="1.45" fill="#43BF71" fill-opacity="0.15"/>
<circle cx="376.41" cy="55.8" r="1.45" fill="#43BF71" fill-opacity="0.15"/>
<circle cx="448.08" cy="82.63" r="1.45" fill="#414487" fill-opacity="0.15"/>
<circle cx="446.23" cy="52.52" r="1.45" fill="#414487" fill-opacity="0.15"/>
<circle cx="439.06" cy="96.94" r="1.45" fill="#414487" fill-opacity="0.15"/>
<circle cx="452.56" cy="37.66" r="1.45" fill="#414487" fill-opacity="0.15"/>
<circle cx="465.44" cy="81.31" r="1.45" fill="#414487" fill-opacity="0.15"/>
<circle cx="442.3" cy="52.06" r="1.45" fill="#414487" fill-opacity="0.15"/>
<circle cx="441.06" cy="37.19" r="1.45" fill="#414487" fill-opacity="0.15"/>
<circle cx="455.66" cy="38.67" r="1.45" fill="#414487" fill-opacity="0.15"/>
<circle cx="449.66" cy="67.96" r="1.45" fill="#414487" fill-opacity="0.15"/>
<circle cx="442.55" cy="51.22" r="1.45" fill="#414487" fill-opacity="0.15"/>
<circle cx="461.69" cy="53.51" r="1.45" fill="#414487" fill-opacity="0.15"/>
<circle cx="452.81" cy="38.45" r="1.45" fill="#414487" fill-opacity="0.15"/>
<circle cx="465.45" cy="66.29" r="1.45" fill="#414487" fill-opacity="0.15"/>
<circle cx="450.35" cy="51.71" r="1.45" fill="#414487" fill-opacity="0.15"/>
<circle cx="464.88" cy="52.94" r="1.45" fill="#414487" fill-opacity="0.15"/>
<circle cx="462.76" cy="36.84" r="1.45" fill="#414487" fill-opacity="0.15"/>
<circle cx="453.87" cy="96.97" r="1.45" fill="#414487" fill-opacity="0.15"/>
<circle cx="465.68" cy="52.4" r="1.45" fill="#414487" fill-opacity="0.15"/>
<circle cx="448.22" cy="38.36" r="1.45" fill="#414487" fill-opacity="0.15"/>
<circle cx="452.79" cy="37.61" r="1.45" fill="#414487" fill-opacity="0.15"/>
<circle cx="454.12" cy="81.2" r="1.45" fill="#414487" fill-opacity="0.15"/>
<circle cx="455.5" cy="52.66" r="1.45" fill="#414487" fill-opacity="0.15"/>
<circle cx="458.82" cy="95.29" r="1.45" fill="#414487" fill-opacity="0.15"/>
<circle cx="446.94" cy="39.17" r="1.45" fill="#414487" fill-opacity="0.15"/>
<circle cx="463.97" cy="67.34" r="1.45" fill="#414487" fill-opacity="0.15"/>
<circle cx="460.72" cy="52.44" r="1.45" fill="#414487" fill-opacity="0.15"/>
<circle cx="453.87" cy="39.21" r="1.45" fill="#414487" fill-opacity="0.15"/>
<circle cx="457.33" cy="37.49" r="1.45" fill="#414487" fill-opacity="0.15"/>
<circle cx="463.47" cy="81.22" r="1.45" fill="#414487" fill-opacity="0.15"/>
<circle cx="443.25" cy="60.94" r="1.45" fill="#414487" fill-opacity="0.15"/>
<circle cx="452.49" cy="37.04" r="1.45" fill="#414487" fill-opacity="0.15"/>
<circle cx="452.6" cy="38.99" r="1.45" fill="#414487" fill-opacity="0.15"/>
<circle cx="451.84" cy="87.41" r="1.45" fill="#414487" fill-opacity="0.15"/>
<circle cx="457.13" cy="52.11" r="1.45" fill="#414487" fill-opacity="0.15"/>
<circle cx="439.37" cy="53.08" r="1.45" fill="#414487" fill-opacity="0.15"/>
<circle cx="443.7" cy="39.21" r="1.45" fill="#414487" fill-opacity="0.15"/>
<circle cx="459.3" cy="88.85" r="1.45" fill="#414487" fill-opacity="0.15"/>
<circle cx="442.82" cy="60.43" r="1.45" fill="#414487" fill-opacity="0.15"/>
<circle cx="450.89" cy="51.55" r="1.45" fill="#414487" fill-opacity="0.15"/>
<circle cx="440.31" cy="36.82" r="1.45" fill="#414487" fill-opacity="0.15"/>
<circle cx="449.34" cy="67.15" r="1.45" fill="#414487" fill-opacity="0.15"/>
<circle cx="443.1" cy="53.57" r="1.45" fill="#414487" fill-opacity="0.15"/>
<circle cx="448.36" cy="52.77" r="1.45" fill="#414487" fill-opacity="0.15"/>
<circle cx="464.67" cy="37.68" r="1.45" fill="#414487" fill-opacity="0.15"/>
<circle cx="451.2" cy="67.22" r="1.45" fill="#414487" fill-opacity="0.15"/>
<circle cx="460.41" cy="53.73" r="1.45" fill="#414487" fill-opacity="0.15"/>
<circle cx="492.39" cy="59.6" r="1.45" fill="#26838E" fill-opacity="0.15"/>
<circle cx="480.95" cy="53.17" r="1.45" fill="#26838E" fill-opacity="0.15"/>
<circle cx="479.02" cy="37.86" r="1.45" fill="#26838E" fill-opacity="0.15"/>
<circle cx="496.6" cy="37.61" r="1.45" fill="#26838E" fill-opacity="0.15"/>
<circle cx="480.95" cy="81.13" r="1.45" fill="#26838E" fill-opacity="0.15"/>
<circle cx="474.27" cy="44.32" r="1.45" fill="#26838E" fill-opacity="0.15"/>
<circle cx="481.41" cy="37.36" r="1.45" fill="#26838E" fill-opacity="0.15"/>
<circle cx="473.27" cy="38.36" r="1.45" fill="#26838E" fill-opacity="0.15"/>
<circle cx="473.89" cy="52.08" r="1.45" fill="#26838E" fill-opacity="0.15"/>
<circle cx="472.72" cy="53.03" r="1.45" fill="#26838E" fill-opacity="0.15"/>
<circle cx="478.62" cy="44.72" r="1.45" fill="#26838E" fill-opacity="0.15"/>
<circle cx="494.4" cy="37.08" r="1.45" fill="#26838E" fill-opacity="0.15"/>
<circle cx="489.01" cy="59.25" r="1.45" fill="#26838E" fill-opacity="0.15"/>
<circle cx="477.69" cy="51.98" r="1.45" fill="#26838E" fill-opacity="0.15"/>
<circle cx="474.06" cy="38.9" r="1.45" fill="#26838E" fill-opacity="0.15"/>
<circle cx="472.01" cy="39.26" r="1.45" fill="#26838E" fill-opacity="0.15"/>
<circle cx="471.99" cy="52.81" r="1.45" fill="#26838E" fill-opacity="0.15"/>
<circle cx="486.46" cy="44.4" r="1.45" fill="#26838E" fill-opacity="0.15"/>
<circle cx="480.44" cy="37.59" r="1.45" fill="#26838E" fill-opacity="0.15"/>
<circle cx="472.09" cy="38.62" r="1.45" fill="#26838E" fill-opacity="0.15"/>
<circle cx="473.95" cy="53.16" r="1.45" fill="#26838E" fill-opacity="0.15"/>
<circle cx="473.27" cy="51.85" r="1.45" fill="#26838E" fill-opacity="0.15"/>
<circle cx="478.59" cy="37.22" r="1.45" fill="#26838E" fill-opacity="0.15"/>
<circle cx="489.77" cy="36.95" r="1.45" fill="#26838E" fill-opacity="0.15"/>
<circle cx="472.4" cy="52.62" r="1.45" fill="#26838E" fill-opacity="0.15"/>
<circle cx="474.4" cy="51.39" r="1.45" fill="#26838E" fill-opacity="0.15"/>
<circle cx="478.04" cy="37.28" r="1.45" fill="#26838E" fill-opacity="0.15"/>
<circle cx="477.73" cy="37.96" r="1.45" fill="#26838E" fill-opacity="0.15"/>
<circle cx="479.39" cy="53.28" r="1.45" fill="#26838E" fill-opacity="0.15"/>
<circle cx="477.51" cy="53.18" r="1.45" fill="#26838E" fill-opacity="0.15"/>
<circle cx="479.08" cy="38.46" r="1.45" fill="#26838E" fill-opacity="0.15"/>
<circle cx="493.15" cy="38.5" r="1.45" fill="#26838E" fill-opacity="0.15"/>
<circle cx="487.24" cy="52.07" r="1.45" fill="#26838E" fill-opacity="0.15"/>
<circle cx="478.81" cy="53.5" r="1.45" fill="#26838E" fill-opacity="0.15"/>
<circle cx="476.29" cy="45.85" r="1.45" fill="#26838E" fill-opacity="0.15"/>
<circle cx="483.7" cy="38.53" r="1.45" fill="#26838E" fill-opacity="0.15"/>
<circle cx="497.96" cy="60.99" r="1.45" fill="#26838E" fill-opacity="0.15"/>
<circle cx="486.29" cy="51.25" r="1.45" fill="#26838E" fill-opacity="0.15"/>
<circle cx="485.72" cy="38.88" r="1.45" fill="#26838E" fill-opacity="0.15"/>
<circle cx="496.41" cy="37.74" r="1.45" fill="#26838E" fill-opacity="0.15"/>
<circle cx="471.68" cy="60.65" r="1.45" fill="#26838E" fill-opacity="0.15"/>
<circle cx="488.31" cy="53.32" r="1.45" fill="#26838E" fill-opacity="0.15"/>
<circle cx="493.56" cy="37.33" r="1.45" fill="#26838E" fill-opacity="0.15"/>
<circle cx="479.65" cy="37.22" r="1.45" fill="#26838E" fill-opacity="0.15"/>
<circle cx="477.45" cy="51.64" r="1.45" fill="#26838E" fill-opacity="0.15"/>
<circle cx="490.15" cy="51.67" r="1.45" fill="#26838E" fill-opacity="0.15"/>
<circle cx="507.66" cy="52.5" r="1.45" fill="#43BF71" fill-opacity="0.15"/>
<circle cx="507.83" cy="52.01" r="1.45" fill="#43BF71" fill-opacity="0.15"/>
<circle cx="515.35" cy="39.26" r="1.45" fill="#43BF71" fill-opacity="0.15"/>
<circle cx="526.69" cy="37.18" r="1.45" fill="#43BF71" fill-opacity="0.15"/>
<circle cx="517.4" cy="66.51" r="1.45" fill="#43BF71" fill-opacity="0.15"/>
<circle cx="525.89" cy="52.07" r="1.45" fill="#43BF71" fill-opacity="0.15"/>
<circle cx="518.73" cy="52.65" r="1.45" fill="#43BF71" fill-opacity="0.15"/>
<circle cx="515.92" cy="38.53" r="1.45" fill="#43BF71" fill-opacity="0.15"/>
<circle cx="529.93" cy="123.7" r="1.45" fill="#43BF71" fill-opacity="0.15"/>
<circle cx="525.44" cy="125.74" r="1.45" fill="#43BF71" fill-opacity="0.15"/>
<circle cx="514.85" cy="52.33" r="1.45" fill="#43BF71" fill-opacity="0.15"/>
<circle cx="517.83" cy="37.12" r="1.45" fill="#43BF71" fill-opacity="0.15"/>
<circle cx="522.22" cy="51.88" r="1.45" fill="#43BF71" fill-opacity="0.15"/>
<circle cx="513.18" cy="51.35" r="1.45" fill="#43BF71" fill-opacity="0.15"/>
<circle cx="529.77" cy="53.21" r="1.45" fill="#43BF71" fill-opacity="0.15"/>
<circle cx="521.08" cy="37.19" r="1.45" fill="#43BF71" fill-opacity="0.15"/>
<circle cx="515.86" cy="53.21" r="1.45" fill="#43BF71" fill-opacity="0.15"/>
<circle cx="518.82" cy="51.44" r="1.45" fill="#43BF71" fill-opacity="0.15"/>
<circle cx="517.09" cy="39.02" r="1.45" fill="#43BF71" fill-opacity="0.15"/>
<circle cx="529.55" cy="37.74" r="1.45" fill="#43BF71" fill-opacity="0.15"/>
<circle cx="529.76" cy="66.81" r="1.45" fill="#43BF71" fill-opacity="0.15"/>
<circle cx="520.24" cy="52.83" r="1.45" fill="#43BF71" fill-opacity="0.15"/>
<circle cx="529.42" cy="51.98" r="1.45" fill="#43BF71" fill-opacity="0.15"/>
<circle cx="505.76" cy="37.01" r="1.45" fill="#43BF71" fill-opacity="0.15"/>
<circle cx="528.38" cy="81.2" r="1.45" fill="#43BF71" fill-opacity="0.15"/>
<circle cx="524.19" cy="52.91" r="1.45" fill="#43BF71" fill-opacity="0.15"/>
<circle cx="523.47" cy="38.4" r="1.45" fill="#43BF71" fill-opacity="0.15"/>
<circle cx="525.63" cy="124.68" r="1.45" fill="#43BF71" fill-opacity="0.15"/>
<circle cx="504.3" cy="66.66" r="1.45" fill="#43BF71" fill-opacity="0.15"/>
<circle cx="503.95" cy="52" r="1.45" fill="#43BF71" fill-opacity="0.15"/>
<circle cx="503.94" cy="96.79" r="1.45" fill="#43BF71" fill-opacity="0.15"/>
<circle cx="511.28" cy="37.93" r="1.45" fill="#43BF71" fill-opacity="0.15"/>
<circle cx="518.05" cy="58.74" r="1.45" fill="#43BF71" fill-opacity="0.15"/>
<circle cx="512.7" cy="53.76" r="1.45" fill="#43BF71" fill-opacity="0.15"/>
<circle cx="504.34" cy="37.29" r="1.45" fill="#43BF71" fill-opacity="0.15"/>
<circle cx="516.34" cy="38.35" r="1.45" fill="#43BF71" fill-opacity="0.15"/>
<circle cx="520.02" cy="51.53" r="1.45" fill="#43BF71" fill-opacity="0.15"/>
<circle cx="519.43" cy="51.48" r="1.45" fill="#43BF71" fill-opacity="0.15"/>
<circle cx="519.1" cy="52.58" r="1.45" fill="#43BF71" fill-opacity="0.15"/>
<circle cx="512.47" cy="37.86" r="1.45" fill="#43BF71" fill-opacity="0.15"/>
<circle cx="507.35" cy="68.11" r="1.45" fill="#43BF71" fill-opacity="0.15"/>
<circle cx="510.51" cy="52.5" r="1.45" fill="#43BF71" fill-opacity="0.15"/>
<circle cx="504.3" cy="36.79" r="1.45" fill="#43BF71" fill-opacity="0.15"/>
<circle cx="520.63" cy="37.36" r="1.45" fill="#43BF71" fill-opacity="0.15"/>
<circle cx="527.16" cy="66.16" r="1.45" fill="#43BF71" fill-opacity="0.15"/>
<circle cx="529.62" cy="125.76" r="1.45" fill="#43BF71" fill-opacity="0.15"/>
<circle cx="595.26" cy="90.18" r="1.45" fill="#414487" fill-opacity="0.15"/>
<circle cx="595.56" cy="71.87" r="1.45" fill="#414487" fill-opacity="0.15"/>
<circle cx="598.64" cy="54.45" r="1.45" fill="#414487" fill-opacity="0.15"/>
<circle cx="582.51" cy="37.88" r="1.45" fill="#414487" fill-opacity="0.15"/>
<circle cx="575.39" cy="72.13" r="1.45" fill="#414487" fill-opacity="0.15"/>
<circle cx="597.8" cy="71.91" r="1.45" fill="#414487" fill-opacity="0.15"/>
<circle cx="579.76" cy="55.14" r="1.45" fill="#414487" fill-opacity="0.15"/>
<circle cx="591.13" cy="37.82" r="1.45" fill="#414487" fill-opacity="0.15"/>
<circle cx="576.25" cy="55.42" r="1.45" fill="#414487" fill-opacity="0.15"/>
<circle cx="577.93" cy="55.01" r="1.45" fill="#414487" fill-opacity="0.15"/>
<circle cx="579.18" cy="54.2" r="1.45" fill="#414487" fill-opacity="0.15"/>
<circle cx="574.99" cy="48.26" r="1.45" fill="#414487" fill-opacity="0.15"/>
<circle cx="591.07" cy="89.17" r="1.45" fill="#414487" fill-opacity="0.15"/>
<circle cx="580.27" cy="73.88" r="1.45" fill="#414487" fill-opacity="0.15"/>
<circle cx="584.73" cy="56.85" r="1.45" fill="#414487" fill-opacity="0.15"/>
<circle cx="593.18" cy="37.29" r="1.45" fill="#414487" fill-opacity="0.15"/>
<circle cx="582.36" cy="87.91" r="1.45" fill="#414487" fill-opacity="0.15"/>
<circle cx="580.11" cy="52.77" r="1.45" fill="#414487" fill-opacity="0.15"/>
<circle cx="594.23" cy="54.76" r="1.45" fill="#414487" fill-opacity="0.15"/>
<circle cx="594.38" cy="46.81" r="1.45" fill="#414487" fill-opacity="0.15"/>
<circle cx="595.07" cy="88.85" r="1.45" fill="#414487" fill-opacity="0.15"/>
<circle cx="588.33" cy="56.23" r="1.45" fill="#414487" fill-opacity="0.15"/>
<circle cx="589.23" cy="54.95" r="1.45" fill="#414487" fill-opacity="0.15"/>
<circle cx="585.91" cy="38.82" r="1.45" fill="#414487" fill-opacity="0.15"/>
<circle cx="593.53" cy="90.62" r="1.45" fill="#414487" fill-opacity="0.15"/>
<circle cx="582.4" cy="124.65" r="1.45" fill="#414487" fill-opacity="0.15"/>
<circle cx="574.8" cy="44.45" r="1.45" fill="#414487" fill-opacity="0.15"/>
<circle cx="587.99" cy="39.14" r="1.45" fill="#414487" fill-opacity="0.15"/>
<circle cx="592.71" cy="71.31" r="1.45" fill="#414487" fill-opacity="0.15"/>
<circle cx="594.91" cy="72.58" r="1.45" fill="#414487" fill-opacity="0.15"/>
<circle cx="577.25" cy="55.74" r="1.45" fill="#414487" fill-opacity="0.15"/>
<circle cx="593.46" cy="39.88" r="1.45" fill="#414487" fill-opacity="0.15"/>
<circle cx="581.72" cy="73.23" r="1.45" fill="#414487" fill-opacity="0.15"/>
<circle cx="572.31" cy="71.3" r="1.45" fill="#414487" fill-opacity="0.15"/>
<circle cx="580.36" cy="47.35" r="1.45" fill="#414487" fill-opacity="0.15"/>
<circle cx="598.22" cy="38.4" r="1.45" fill="#414487" fill-opacity="0.15"/>
<circle cx="597.48" cy="88.58" r="1.45" fill="#414487" fill-opacity="0.15"/>
<circle cx="595.24" cy="65.42" r="1.45" fill="#414487" fill-opacity="0.15"/>
<circle cx="577.25" cy="54" r="1.45" fill="#414487" fill-opacity="0.15"/>
<circle cx="572.73" cy="37.68" r="1.45" fill="#414487" fill-opacity="0.15"/>
<circle cx="596.99" cy="90.5" r="1.45" fill="#414487" fill-opacity="0.15"/>
<circle cx="575.11" cy="54.14" r="1.45" fill="#414487" fill-opacity="0.15"/>
<circle cx="584.13" cy="54.63" r="1.45" fill="#414487" fill-opacity="0.15"/>
<circle cx="582.28" cy="37.89" r="1.45" fill="#414487" fill-opacity="0.15"/>
<circle cx="588.57" cy="73.31" r="1.45" fill="#414487" fill-opacity="0.15"/>
<circle cx="590.51" cy="72.17" r="1.45" fill="#414487" fill-opacity="0.15"/>
<circle cx="606.93" cy="73.73" r="1.45" fill="#26838E" fill-opacity="0.15"/>
<circle cx="603.99" cy="89.32" r="1.45" fill="#26838E" fill-opacity="0.15"/>
<circle cx="631" cy="38.26" r="1.45" fill="#26838E" fill-opacity="0.15"/>
<circle cx="630.37" cy="39.69" r="1.45" fill="#26838E" fill-opacity="0.15"/>
<circle cx="623.1" cy="56.71" r="1.45" fill="#26838E" fill-opacity="0.15"/>
<circle cx="605.23" cy="56.33" r="1.45" fill="#26838E" fill-opacity="0.15"/>
<circle cx="605.05" cy="38.93" r="1.45" fill="#26838E" fill-opacity="0.15"/>
<circle cx="631" cy="38.67" r="1.45" fill="#26838E" fill-opacity="0.15"/>
<circle cx="614.36" cy="72.28" r="1.45" fill="#26838E" fill-opacity="0.15"/>
<circle cx="628.4" cy="54.47" r="1.45" fill="#26838E" fill-opacity="0.15"/>
<circle cx="622.83" cy="36.9" r="1.45" fill="#26838E" fill-opacity="0.15"/>
<circle cx="606.29" cy="37.9" r="1.45" fill="#26838E" fill-opacity="0.15"/>
<circle cx="619.15" cy="72.69" r="1.45" fill="#26838E" fill-opacity="0.15"/>
<circle cx="619.67" cy="55.54" r="1.45" fill="#26838E" fill-opacity="0.15"/>
<circle cx="618.81" cy="38.88" r="1.45" fill="#26838E" fill-opacity="0.15"/>
<circle cx="613.6" cy="37.27" r="1.45" fill="#26838E" fill-opacity="0.15"/>
<circle cx="626.44" cy="54.91" r="1.45" fill="#26838E" fill-opacity="0.15"/>
<circle cx="624.78" cy="54.1" r="1.45" fill="#26838E" fill-opacity="0.15"/>
<circle cx="619.99" cy="38.87" r="1.45" fill="#26838E" fill-opacity="0.15"/>
<circle cx="613.85" cy="37.61" r="1.45" fill="#26838E" fill-opacity="0.15"/>
<circle cx="608.08" cy="71.87" r="1.45" fill="#26838E" fill-opacity="0.15"/>
<circle cx="621.7" cy="54.31" r="1.45" fill="#26838E" fill-opacity="0.15"/>
<circle cx="615.59" cy="37.29" r="1.45" fill="#26838E" fill-opacity="0.15"/>
<circle cx="621.99" cy="38.81" r="1.45" fill="#26838E" fill-opacity="0.15"/>
<circle cx="611.84" cy="73.09" r="1.45" fill="#26838E" fill-opacity="0.15"/>
<circle cx="608.68" cy="54.69" r="1.45" fill="#26838E" fill-opacity="0.15"/>
<circle cx="621.92" cy="46.93" r="1.45" fill="#26838E" fill-opacity="0.15"/>
<circle cx="619.08" cy="39.16" r="1.45" fill="#26838E" fill-opacity="0.15"/>
<circle cx="618.77" cy="72.99" r="1.45" fill="#26838E" fill-opacity="0.15"/>
<circle cx="618.24" cy="55.59" r="1.45" fill="#26838E" fill-opacity="0.15"/>
<circle cx="611.84" cy="45.5" r="1.45" fill="#26838E" fill-opacity="0.15"/>
<circle cx="605.06" cy="38.78" r="1.45" fill="#26838E" fill-opacity="0.15"/>
<circle cx="610.92" cy="55.07" r="1.45" fill="#26838E" fill-opacity="0.15"/>
<circle cx="630.57" cy="46.54" r="1.45" fill="#26838E" fill-opacity="0.15"/>
<circle cx="627.37" cy="39.31" r="1.45" fill="#26838E" fill-opacity="0.15"/>
<circle cx="629.43" cy="38.66" r="1.45" fill="#26838E" fill-opacity="0.15"/>
<circle cx="629.41" cy="63.71" r="1.45" fill="#26838E" fill-opacity="0.15"/>
<circle cx="605.7" cy="56.39" r="1.45" fill="#26838E" fill-opacity="0.15"/>
<circle cx="610.26" cy="39.9" r="1.45" fill="#26838E" fill-opacity="0.15"/>
<circle cx="612.92" cy="39.03" r="1.45" fill="#26838E" fill-opacity="0.15"/>
<circle cx="619.49" cy="71.34" r="1.45" fill="#26838E" fill-opacity="0.15"/>
<circle cx="616.3" cy="56.27" r="1.45" fill="#26838E" fill-opacity="0.15"/>
<circle cx="618.92" cy="37.29" r="1.45" fill="#26838E" fill-opacity="0.15"/>
<circle cx="605.29" cy="38.68" r="1.45" fill="#26838E" fill-opacity="0.15"/>
<circle cx="608.99" cy="70.92" r="1.45" fill="#26838E" fill-opacity="0.15"/>
<circle cx="622.02" cy="47.26" r="1.45" fill="#26838E" fill-opacity="0.15"/>
<circle cx="644.74" cy="71.85" r="1.45" fill="#43BF71" fill-opacity="0.15"/>
<circle cx="644.68" cy="55.28" r="1.45" fill="#43BF71" fill-opacity="0.15"/>
<circle cx="654.26" cy="54.08" r="1.45" fill="#43BF71" fill-opacity="0.15"/>
<circle cx="648.81" cy="38.88" r="1.45" fill="#43BF71" fill-opacity="0.15"/>
<circle cx="638.21" cy="73.9" r="1.45" fill="#43BF71" fill-opacity="0.15"/>
<circle cx="642.36" cy="107.82" r="1.45" fill="#43BF71" fill-opacity="0.15"/>
<circle cx="653.02" cy="53.95" r="1.45" fill="#43BF71" fill-opacity="0.15"/>
<circle cx="641.28" cy="39.31" r="1.45" fill="#43BF71" fill-opacity="0.15"/>
<circle cx="658.57" cy="88.24" r="1.45" fill="#43BF71" fill-opacity="0.15"/>
<circle cx="640.84" cy="54.67" r="1.45" fill="#43BF71" fill-opacity="0.15"/>
<circle cx="650.94" cy="37.48" r="1.45" fill="#43BF71" fill-opacity="0.15"/>
<circle cx="649.06" cy="38.35" r="1.45" fill="#43BF71" fill-opacity="0.15"/>
<circle cx="659.09" cy="90.25" r="1.45" fill="#43BF71" fill-opacity="0.15"/>
<circle cx="661.55" cy="54.27" r="1.45" fill="#43BF71" fill-opacity="0.15"/>
<circle cx="660.21" cy="54.61" r="1.45" fill="#43BF71" fill-opacity="0.15"/>
<circle cx="643.4" cy="38.98" r="1.45" fill="#43BF71" fill-opacity="0.15"/>
<circle cx="642.66" cy="88.89" r="1.45" fill="#43BF71" fill-opacity="0.15"/>
<circle cx="653.84" cy="106.77" r="1.45" fill="#43BF71" fill-opacity="0.15"/>
<circle cx="656.22" cy="47.01" r="1.45" fill="#43BF71" fill-opacity="0.15"/>
<circle cx="639.7" cy="37.39" r="1.45" fill="#43BF71" fill-opacity="0.15"/>
<circle cx="645.86" cy="107.04" r="1.45" fill="#43BF71" fill-opacity="0.15"/>
<circle cx="649.58" cy="56.65" r="1.45" fill="#43BF71" fill-opacity="0.15"/>
<circle cx="640.18" cy="39.66" r="1.45" fill="#43BF71" fill-opacity="0.15"/>
<circle cx="661.57" cy="39.23" r="1.45" fill="#43BF71" fill-opacity="0.15"/>
<circle cx="662.11" cy="72.88" r="1.45" fill="#43BF71" fill-opacity="0.15"/>
<circle cx="643.11" cy="55.55" r="1.45" fill="#43BF71" fill-opacity="0.15"/>
<circle cx="638.26" cy="56.02" r="1.45" fill="#43BF71" fill-opacity="0.15"/>
<circle cx="652.61" cy="37.52" r="1.45" fill="#43BF71" fill-opacity="0.15"/>
<circle cx="654" cy="90.63" r="1.45" fill="#43BF71" fill-opacity="0.15"/>
<circle cx="654.45" cy="55.78" r="1.45" fill="#43BF71" fill-opacity="0.15"/>
<circle cx="659.33" cy="55.92" r="1.45" fill="#43BF71" fill-opacity="0.15"/>
<circle cx="660.33" cy="39.64" r="1.45" fill="#43BF71" fill-opacity="0.15"/>
<circle cx="649.12" cy="73.57" r="1.45" fill="#43BF71" fill-opacity="0.15"/>
<circle cx="641.76" cy="55.81" r="1.45" fill="#43BF71" fill-opacity="0.15"/>
<circle cx="660.13" cy="56.2" r="1.45" fill="#43BF71" fill-opacity="0.15"/>
<circle cx="649.68" cy="37.04" r="1.45" fill="#43BF71" fill-opacity="0.15"/>
<circle cx="656.82" cy="73.23" r="1.45" fill="#43BF71" fill-opacity="0.15"/>
<circle cx="650.49" cy="64.23" r="1.45" fill="#43BF71" fill-opacity="0.15"/>
<circle cx="642.75" cy="38.16" r="1.45" fill="#43BF71" fill-opacity="0.15"/>
<circle cx="643.07" cy="39.74" r="1.45" fill="#43BF71" fill-opacity="0.15"/>
<circle cx="655.23" cy="63.54" r="1.45" fill="#43BF71" fill-opacity="0.15"/>
<circle cx="661.47" cy="55.52" r="1.45" fill="#43BF71" fill-opacity="0.15"/>
<circle cx="638.77" cy="38.68" r="1.45" fill="#43BF71" fill-opacity="0.15"/>
<circle cx="645.76" cy="39.47" r="1.45" fill="#43BF71" fill-opacity="0.15"/>
<circle cx="662.97" cy="81.42" r="1.45" fill="#43BF71" fill-opacity="0.15"/>
<circle cx="650.7" cy="107.81" r="1.45" fill="#43BF71" fill-opacity="0.15"/>
<circle cx="72.53" cy="254.1" r="1.45" fill="#414487" fill-opacity="0.15"/>
<circle cx="76.31" cy="224.62" r="1.45" fill="#414487" fill-opacity="0.15"/>
<circle cx="59.16" cy="182.31" r="1.45" fill="#414487" fill-opacity="0.15"/>
<circle cx="58.08" cy="170.13" r="1.45" fill="#414487" fill-opacity="0.15"/>
<circle cx="64.34" cy="246.29" r="1.45" fill="#414487" fill-opacity="0.15"/>
<circle cx="62.68" cy="209.29" r="1.45" fill="#414487" fill-opacity="0.15"/>
<circle cx="70.21" cy="189.29" r="1.45" fill="#414487" fill-opacity="0.15"/>
<circle cx="61.52" cy="168.78" r="1.45" fill="#414487" fill-opacity="0.15"/>
<circle cx="43.07" cy="238.02" r="1.45" fill="#414487" fill-opacity="0.15"/>
<circle cx="53.62" cy="224.31" r="1.45" fill="#414487" fill-opacity="0.15"/>
<circle cx="69.83" cy="182.57" r="1.45" fill="#414487" fill-opacity="0.15"/>
<circle cx="52.1" cy="169.49" r="1.45" fill="#414487" fill-opacity="0.15"/>
<circle cx="56.08" cy="239.06" r="1.45" fill="#414487" fill-opacity="0.15"/>
<circle cx="55.47" cy="240.05" r="1.45" fill="#414487" fill-opacity="0.15"/>
<circle cx="48.02" cy="195.76" r="1.45" fill="#414487" fill-opacity="0.15"/>
<circle cx="49.07" cy="183.65" r="1.45" fill="#414487" fill-opacity="0.15"/>
<circle cx="53.26" cy="253.28" r="1.45" fill="#414487" fill-opacity="0.15"/>
<circle cx="73.08" cy="238.2" r="1.45" fill="#414487" fill-opacity="0.15"/>
<circle cx="72.87" cy="227.54" r="1.45" fill="#414487" fill-opacity="0.15"/>
<circle cx="55.37" cy="167.82" r="1.45" fill="#414487" fill-opacity="0.15"/>
<circle cx="61.65" cy="239.64" r="1.45" fill="#414487" fill-opacity="0.15"/>
<circle cx="67.76" cy="209.78" r="1.45" fill="#414487" fill-opacity="0.15"/>
<circle cx="50.4" cy="189.36" r="1.45" fill="#414487" fill-opacity="0.15"/>
<circle cx="51.93" cy="169.59" r="1.45" fill="#414487" fill-opacity="0.15"/>
<circle cx="70.44" cy="237.9" r="1.45" fill="#414487" fill-opacity="0.15"/>
<circle cx="41.91" cy="210.52" r="1.45" fill="#414487" fill-opacity="0.15"/>
<circle cx="52.49" cy="183.31" r="1.45" fill="#414487" fill-opacity="0.15"/>
<circle cx="75.47" cy="183.1" r="1.45" fill="#414487" fill-opacity="0.15"/>
<circle cx="48.03" cy="253.58" r="1.45" fill="#414487" fill-opacity="0.15"/>
<circle cx="62.53" cy="225.82" r="1.45" fill="#414487" fill-opacity="0.15"/>
<circle cx="69.14" cy="200.96" r="1.45" fill="#414487" fill-opacity="0.15"/>
<circle cx="75.54" cy="170.05" r="1.45" fill="#414487" fill-opacity="0.15"/>
<circle cx="73.83" cy="253.35" r="1.45" fill="#414487" fill-opacity="0.15"/>
<circle cx="60.47" cy="212.14" r="1.45" fill="#414487" fill-opacity="0.15"/>
<circle cx="52.37" cy="198.1" r="1.45" fill="#414487" fill-opacity="0.15"/>
<circle cx="76.31" cy="168.78" r="1.45" fill="#414487" fill-opacity="0.15"/>
<circle cx="73.42" cy="253.57" r="1.45" fill="#414487" fill-opacity="0.15"/>
<circle cx="65.85" cy="211.24" r="1.45" fill="#414487" fill-opacity="0.15"/>
<circle cx="45.32" cy="197.07" r="1.45" fill="#414487" fill-opacity="0.15"/>
<circle cx="55.99" cy="200.69" r="1.45" fill="#414487" fill-opacity="0.15"/>
<circle cx="60.59" cy="239.56" r="1.45" fill="#414487" fill-opacity="0.15"/>
<circle cx="55.39" cy="212.07" r="1.45" fill="#414487" fill-opacity="0.15"/>
<circle cx="45.63" cy="196.11" r="1.45" fill="#414487" fill-opacity="0.15"/>
<circle cx="52.29" cy="182.5" r="1.45" fill="#414487" fill-opacity="0.15"/>
<circle cx="72.85" cy="252.03" r="1.45" fill="#414487" fill-opacity="0.15"/>
<circle cx="66.94" cy="210.16" r="1.45" fill="#414487" fill-opacity="0.15"/>
<circle cx="110.29" cy="239.88" r="1.45" fill="#26838E" fill-opacity="0.15"/>
<circle cx="112.7" cy="196.14" r="1.45" fill="#26838E" fill-opacity="0.15"/>
<circle cx="115.42" cy="183.41" r="1.45" fill="#26838E" fill-opacity="0.15"/>
<circle cx="117.66" cy="169.22" r="1.45" fill="#26838E" fill-opacity="0.15"/>
<circle cx="86.62" cy="223.93" r="1.45" fill="#26838E" fill-opacity="0.15"/>
<circle cx="91.93" cy="190.17" r="1.45" fill="#26838E" fill-opacity="0.15"/>
<circle cx="88.99" cy="168.11" r="1.45" fill="#26838E" fill-opacity="0.15"/>
<circle cx="94.41" cy="169.95" r="1.45" fill="#26838E" fill-opacity="0.15"/>
<circle cx="94.58" cy="197.3" r="1.45" fill="#26838E" fill-opacity="0.15"/>
<circle cx="109.9" cy="182" r="1.45" fill="#26838E" fill-opacity="0.15"/>
<circle cx="116.82" cy="168.73" r="1.45" fill="#26838E" fill-opacity="0.15"/>
<circle cx="87.05" cy="168.02" r="1.45" fill="#26838E" fill-opacity="0.15"/>
<circle cx="92.09" cy="216.86" r="1.45" fill="#26838E" fill-opacity="0.15"/>
<circle cx="119.47" cy="182.99" r="1.45" fill="#26838E" fill-opacity="0.15"/>
<circle cx="101.08" cy="175.9" r="1.45" fill="#26838E" fill-opacity="0.15"/>
<circle cx="103.36" cy="167.83" r="1.45" fill="#26838E" fill-opacity="0.15"/>
<circle cx="119.35" cy="211.55" r="1.45" fill="#26838E" fill-opacity="0.15"/>
<circle cx="113.46" cy="190.82" r="1.45" fill="#26838E" fill-opacity="0.15"/>
<circle cx="87.44" cy="183.57" r="1.45" fill="#26838E" fill-opacity="0.15"/>
<circle cx="108.26" cy="169.23" r="1.45" fill="#26838E" fill-opacity="0.15"/>
<circle cx="107.94" cy="238.92" r="1.45" fill="#26838E" fill-opacity="0.15"/>
<circle cx="119.18" cy="183.17" r="1.45" fill="#26838E" fill-opacity="0.15"/>
<circle cx="88.25" cy="175.71" r="1.45" fill="#26838E" fill-opacity="0.15"/>
<circle cx="84.81" cy="168" r="1.45" fill="#26838E" fill-opacity="0.15"/>
<circle cx="91.47" cy="210.31" r="1.45" fill="#26838E" fill-opacity="0.15"/>
<circle cx="85.04" cy="182.28" r="1.45" fill="#26838E" fill-opacity="0.15"/>
<circle cx="99.29" cy="176.37" r="1.45" fill="#26838E" fill-opacity="0.15"/>
<circle cx="104.33" cy="168.9" r="1.45" fill="#26838E" fill-opacity="0.15"/>
<circle cx="88.01" cy="211.37" r="1.45" fill="#26838E" fill-opacity="0.15"/>
<circle cx="109.94" cy="184.19" r="1.45" fill="#26838E" fill-opacity="0.15"/>
<circle cx="116.11" cy="183.34" r="1.45" fill="#26838E" fill-opacity="0.15"/>
<circle cx="116.58" cy="169.46" r="1.45" fill="#26838E" fill-opacity="0.15"/>
<circle cx="93.28" cy="181.53" r="1.45" fill="#26838E" fill-opacity="0.15"/>
<circle cx="91.18" cy="195.9" r="1.45" fill="#26838E" fill-opacity="0.15"/>
<circle cx="110.39" cy="168.31" r="1.45" fill="#26838E" fill-opacity="0.15"/>
<circle cx="88.22" cy="169.91" r="1.45" fill="#26838E" fill-opacity="0.15"/>
<circle cx="119.32" cy="217.21" r="1.45" fill="#26838E" fill-opacity="0.15"/>
<circle cx="117.18" cy="182.82" r="1.45" fill="#26838E" fill-opacity="0.15"/>
<circle cx="111.95" cy="183.1" r="1.45" fill="#26838E" fill-opacity="0.15"/>
<circle cx="115.98" cy="169.37" r="1.45" fill="#26838E" fill-opacity="0.15"/>
<circle cx="104.85" cy="197.15" r="1.45" fill="#26838E" fill-opacity="0.15"/>
<circle cx="111.69" cy="194.39" r="1.45" fill="#26838E" fill-opacity="0.15"/>
<circle cx="107.73" cy="169.83" r="1.45" fill="#26838E" fill-opacity="0.15"/>
<circle cx="115.98" cy="169.08" r="1.45" fill="#26838E" fill-opacity="0.15"/>
<circle cx="109.46" cy="239.3" r="1.45" fill="#26838E" fill-opacity="0.15"/>
<circle cx="111.1" cy="182.83" r="1.45" fill="#26838E" fill-opacity="0.15"/>
<circle cx="159.92" cy="225.65" r="1.45" fill="#43BF71" fill-opacity="0.15"/>
<circle cx="161.12" cy="211.25" r="1.45" fill="#43BF71" fill-opacity="0.15"/>
<circle cx="147.23" cy="189.02" r="1.45" fill="#43BF71" fill-opacity="0.15"/>
<circle cx="144.44" cy="176.08" r="1.45" fill="#43BF71" fill-opacity="0.15"/>
<circle cx="130.65" cy="188.24" r="1.45" fill="#43BF71" fill-opacity="0.15"/>
<circle cx="145.55" cy="197.45" r="1.45" fill="#43BF71" fill-opacity="0.15"/>
<circle cx="129.76" cy="219.99" r="1.45" fill="#43BF71" fill-opacity="0.15"/>
<circle cx="149.27" cy="175.84" r="1.45" fill="#43BF71" fill-opacity="0.15"/>
<circle cx="149.35" cy="224.59" r="1.45" fill="#43BF71" fill-opacity="0.15"/>
<circle cx="133.92" cy="197.73" r="1.45" fill="#43BF71" fill-opacity="0.15"/>
<circle cx="153.7" cy="182.48" r="1.45" fill="#43BF71" fill-opacity="0.15"/>
<circle cx="145.91" cy="170.04" r="1.45" fill="#43BF71" fill-opacity="0.15"/>
<circle cx="162.65" cy="245.04" r="1.45" fill="#43BF71" fill-opacity="0.15"/>
<circle cx="144.99" cy="211.51" r="1.45" fill="#43BF71" fill-opacity="0.15"/>
<circle cx="128.73" cy="191.06" r="1.45" fill="#43BF71" fill-opacity="0.15"/>
<circle cx="162.65" cy="169.29" r="1.45" fill="#43BF71" fill-opacity="0.15"/>
<circle cx="154.53" cy="205.47" r="1.45" fill="#43BF71" fill-opacity="0.15"/>
<circle cx="153.47" cy="212.11" r="1.45" fill="#43BF71" fill-opacity="0.15"/>
<circle cx="129.14" cy="196.24" r="1.45" fill="#43BF71" fill-opacity="0.15"/>
<circle cx="155.58" cy="183.92" r="1.45" fill="#43BF71" fill-opacity="0.15"/>
<circle cx="133.04" cy="253.85" r="1.45" fill="#43BF71" fill-opacity="0.15"/>
<circle cx="149.64" cy="197.97" r="1.45" fill="#43BF71" fill-opacity="0.15"/>
<circle cx="127.64" cy="182.23" r="1.45" fill="#43BF71" fill-opacity="0.15"/>
<circle cx="156.6" cy="183.36" r="1.45" fill="#43BF71" fill-opacity="0.15"/>
<circle cx="130.02" cy="218.4" r="1.45" fill="#43BF71" fill-opacity="0.15"/>
<circle cx="139.32" cy="211.19" r="1.45" fill="#43BF71" fill-opacity="0.15"/>
<circle cx="129.09" cy="197.73" r="1.45" fill="#43BF71" fill-opacity="0.15"/>
<circle cx="145.88" cy="181.91" r="1.45" fill="#43BF71" fill-opacity="0.15"/>
<circle cx="154.4" cy="225.71" r="1.45" fill="#43BF71" fill-opacity="0.15"/>
<circle cx="161.35" cy="197.96" r="1.45" fill="#43BF71" fill-opacity="0.15"/>
<circle cx="137.42" cy="188.87" r="1.45" fill="#43BF71" fill-opacity="0.15"/>
<circle cx="158.41" cy="184.03" r="1.45" fill="#43BF71" fill-opacity="0.15"/>
<circle cx="132.28" cy="224.39" r="1.45" fill="#43BF71" fill-opacity="0.15"/>
<circle cx="153.48" cy="212.06" r="1.45" fill="#43BF71" fill-opacity="0.15"/>
<circle cx="153.23" cy="196.86" r="1.45" fill="#43BF71" fill-opacity="0.15"/>
<circle cx="143.4" cy="167.94" r="1.45" fill="#43BF71" fill-opacity="0.15"/>
<circle cx="133.41" cy="238.5" r="1.45" fill="#43BF71" fill-opacity="0.15"/>
<circle cx="143.78" cy="178.33" r="1.45" fill="#43BF71" fill-opacity="0.15"/>
<circle cx="131.01" cy="196.28" r="1.45" fill="#43BF71" fill-opacity="0.15"/>
<circle cx="157.67" cy="182.69" r="1.45" fill="#43BF71" fill-opacity="0.15"/>
<circle cx="138.42" cy="252.59" r="1.45" fill="#43BF71" fill-opacity="0.15"/>
<circle cx="129.23" cy="210.15" r="1.45" fill="#43BF71" fill-opacity="0.15"/>
<circle cx="137.84" cy="198.1" r="1.45" fill="#43BF71" fill-opacity="0.15"/>
<circle cx="146.72" cy="169.36" r="1.45" fill="#43BF71" fill-opacity="0.15"/>
<circle cx="133.16" cy="239.33" r="1.45" fill="#43BF71" fill-opacity="0.15"/>
<circle cx="154.61" cy="197.84" r="1.45" fill="#43BF71" fill-opacity="0.15"/>
<circle cx="214.26" cy="246.92" r="1.45" fill="#414487" fill-opacity="0.15"/>
<circle cx="224.28" cy="196.69" r="1.45" fill="#414487" fill-opacity="0.15"/>
<circle cx="215.73" cy="182.15" r="1.45" fill="#414487" fill-opacity="0.15"/>
<circle cx="232.93" cy="169.05" r="1.45" fill="#414487" fill-opacity="0.15"/>
<circle cx="215.59" cy="240.02" r="1.45" fill="#414487" fill-opacity="0.15"/>
<circle cx="224.19" cy="197.4" r="1.45" fill="#414487" fill-opacity="0.15"/>
<circle cx="215.28" cy="247.31" r="1.45" fill="#414487" fill-opacity="0.15"/>
<circle cx="238.21" cy="167.78" r="1.45" fill="#414487" fill-opacity="0.15"/>
<circle cx="213.42" cy="197.71" r="1.45" fill="#414487" fill-opacity="0.15"/>
<circle cx="240.6" cy="197.64" r="1.45" fill="#414487" fill-opacity="0.15"/>
<circle cx="218.73" cy="176.09" r="1.45" fill="#414487" fill-opacity="0.15"/>
<circle cx="242.77" cy="169.91" r="1.45" fill="#414487" fill-opacity="0.15"/>
<circle cx="225.83" cy="231.79" r="1.45" fill="#414487" fill-opacity="0.15"/>
<circle cx="215.71" cy="196.96" r="1.45" fill="#414487" fill-opacity="0.15"/>
<circle cx="236.25" cy="169.85" r="1.45" fill="#414487" fill-opacity="0.15"/>
<circle cx="220.53" cy="245.32" r="1.45" fill="#414487" fill-opacity="0.15"/>
<circle cx="239.79" cy="231.93" r="1.45" fill="#414487" fill-opacity="0.15"/>
<circle cx="212.33" cy="197.2" r="1.45" fill="#414487" fill-opacity="0.15"/>
<circle cx="221.76" cy="167.84" r="1.45" fill="#414487" fill-opacity="0.15"/>
<circle cx="224.47" cy="169.62" r="1.45" fill="#414487" fill-opacity="0.15"/>
<circle cx="229.67" cy="195.81" r="1.45" fill="#414487" fill-opacity="0.15"/>
<circle cx="223.73" cy="181.74" r="1.45" fill="#414487" fill-opacity="0.15"/>
<circle cx="219.64" cy="169.19" r="1.45" fill="#414487" fill-opacity="0.15"/>
<circle cx="237.13" cy="169.8" r="1.45" fill="#414487" fill-opacity="0.15"/>
<circle cx="227.53" cy="211.22" r="1.45" fill="#414487" fill-opacity="0.15"/>
<circle cx="241.9" cy="198.01" r="1.45" fill="#414487" fill-opacity="0.15"/>
<circle cx="239.25" cy="182.79" r="1.45" fill="#414487" fill-opacity="0.15"/>
<circle cx="223.58" cy="168.73" r="1.45" fill="#414487" fill-opacity="0.15"/>
<circle cx="241.79" cy="196.14" r="1.45" fill="#414487" fill-opacity="0.15"/>
<circle cx="240.26" cy="184.13" r="1.45" fill="#414487" fill-opacity="0.15"/>
<circle cx="242.14" cy="183.53" r="1.45" fill="#414487" fill-opacity="0.15"/>
<circle cx="236.38" cy="168.07" r="1.45" fill="#414487" fill-opacity="0.15"/>
<circle cx="231" cy="218.77" r="1.45" fill="#414487" fill-opacity="0.15"/>
<circle cx="214.21" cy="181.83" r="1.45" fill="#414487" fill-opacity="0.15"/>
<circle cx="232.23" cy="169.76" r="1.45" fill="#414487" fill-opacity="0.15"/>
<circle cx="231.7" cy="168.89" r="1.45" fill="#414487" fill-opacity="0.15"/>
<circle cx="231.51" cy="211.17" r="1.45" fill="#414487" fill-opacity="0.15"/>
<circle cx="232.84" cy="196.6" r="1.45" fill="#414487" fill-opacity="0.15"/>
<circle cx="215.66" cy="182.28" r="1.45" fill="#414487" fill-opacity="0.15"/>
<circle cx="241.95" cy="169.18" r="1.45" fill="#414487" fill-opacity="0.15"/>
<circle cx="231.19" cy="225.5" r="1.45" fill="#414487" fill-opacity="0.15"/>
<circle cx="216.86" cy="197.77" r="1.45" fill="#414487" fill-opacity="0.15"/>
<circle cx="210.07" cy="183.2" r="1.45" fill="#414487" fill-opacity="0.15"/>
<circle cx="232.68" cy="169.31" r="1.45" fill="#414487" fill-opacity="0.15"/>
<circle cx="231.65" cy="226.37" r="1.45" fill="#414487" fill-opacity="0.15"/>
<circle cx="237.41" cy="196.38" r="1.45" fill="#414487" fill-opacity="0.15"/>
<circle cx="257.29" cy="181.82" r="1.45" fill="#26838E" fill-opacity="0.15"/>
<circle cx="271.9" cy="182.19" r="1.45" fill="#26838E" fill-opacity="0.15"/>
<circle cx="250.75" cy="169.71" r="1.45" fill="#26838E" fill-opacity="0.15"/>
<circle cx="250.38" cy="170.04" r="1.45" fill="#26838E" fill-opacity="0.15"/>
<circle cx="259.78" cy="190.71" r="1.45" fill="#26838E" fill-opacity="0.15"/>
<circle cx="283.93" cy="169.93" r="1.45" fill="#26838E" fill-opacity="0.15"/>
<circle cx="252.86" cy="211.18" r="1.45" fill="#26838E" fill-opacity="0.15"/>
<circle cx="262.23" cy="168" r="1.45" fill="#26838E" fill-opacity="0.15"/>
<circle cx="253.51" cy="211.95" r="1.45" fill="#26838E" fill-opacity="0.15"/>
<circle cx="276.5" cy="168.21" r="1.45" fill="#26838E" fill-opacity="0.15"/>
<circle cx="270.43" cy="167.87" r="1.45" fill="#26838E" fill-opacity="0.15"/>
<circle cx="276.08" cy="169.24" r="1.45" fill="#26838E" fill-opacity="0.15"/>
<circle cx="271.36" cy="184.03" r="1.45" fill="#26838E" fill-opacity="0.15"/>
<circle cx="258.55" cy="168.21" r="1.45" fill="#26838E" fill-opacity="0.15"/>
<circle cx="257.16" cy="169.86" r="1.45" fill="#26838E" fill-opacity="0.15"/>
<circle cx="259.54" cy="169.61" r="1.45" fill="#26838E" fill-opacity="0.15"/>
<circle cx="276.34" cy="184.19" r="1.45" fill="#26838E" fill-opacity="0.15"/>
<circle cx="272.39" cy="182.52" r="1.45" fill="#26838E" fill-opacity="0.15"/>
<circle cx="259.62" cy="168.54" r="1.45" fill="#26838E" fill-opacity="0.15"/>
<circle cx="276.05" cy="168.12" r="1.45" fill="#26838E" fill-opacity="0.15"/>
<circle cx="269.08" cy="211.36" r="1.45" fill="#26838E" fill-opacity="0.15"/>
<circle cx="261.94" cy="169.47" r="1.45" fill="#26838E" fill-opacity="0.15"/>
<circle cx="251.3" cy="169.59" r="1.45" fill="#26838E" fill-opacity="0.15"/>
<circle cx="274.95" cy="168.01" r="1.45" fill="#26838E" fill-opacity="0.15"/>
<circle cx="272.71" cy="189.62" r="1.45" fill="#26838E" fill-opacity="0.15"/>
<circle cx="266.43" cy="182.97" r="1.45" fill="#26838E" fill-opacity="0.15"/>
<circle cx="269.51" cy="168.43" r="1.45" fill="#26838E" fill-opacity="0.15"/>
<circle cx="277.96" cy="170.09" r="1.45" fill="#26838E" fill-opacity="0.15"/>
<circle cx="284.25" cy="182.09" r="1.45" fill="#26838E" fill-opacity="0.15"/>
<circle cx="273.94" cy="184.18" r="1.45" fill="#26838E" fill-opacity="0.15"/>
<circle cx="255.44" cy="168.9" r="1.45" fill="#26838E" fill-opacity="0.15"/>
<circle cx="283.04" cy="170.13" r="1.45" fill="#26838E" fill-opacity="0.15"/>
<circle cx="279.74" cy="183.47" r="1.45" fill="#26838E" fill-opacity="0.15"/>
<circle cx="279.32" cy="176.26" r="1.45" fill="#26838E" fill-opacity="0.15"/>
<circle cx="270.12" cy="169.06" r="1.45" fill="#26838E" fill-opacity="0.15"/>
<circle cx="264.16" cy="168.39" r="1.45" fill="#26838E" fill-opacity="0.15"/>
<circle cx="264.4" cy="196.4" r="1.45" fill="#26838E" fill-opacity="0.15"/>
<circle cx="267.93" cy="167.9" r="1.45" fill="#26838E" fill-opacity="0.15"/>
<circle cx="268.71" cy="170.14" r="1.45" fill="#26838E" fill-opacity="0.15"/>
<circle cx="261.52" cy="168.66" r="1.45" fill="#26838E" fill-opacity="0.15"/>
<circle cx="252.25" cy="182.6" r="1.45" fill="#26838E" fill-opacity="0.15"/>
<circle cx="259.39" cy="182.27" r="1.45" fill="#26838E" fill-opacity="0.15"/>
<circle cx="261.68" cy="169.64" r="1.45" fill="#26838E" fill-opacity="0.15"/>
<circle cx="264.44" cy="168.65" r="1.45" fill="#26838E" fill-opacity="0.15"/>
<circle cx="277.5" cy="182.56" r="1.45" fill="#26838E" fill-opacity="0.15"/>
<circle cx="273.45" cy="168.15" r="1.45" fill="#26838E" fill-opacity="0.15"/>
<circle cx="304.23" cy="190.91" r="1.45" fill="#43BF71" fill-opacity="0.15"/>
<circle cx="301.81" cy="183.49" r="1.45" fill="#43BF71" fill-opacity="0.15"/>
<circle cx="299.39" cy="167.95" r="1.45" fill="#43BF71" fill-opacity="0.15"/>
<circle cx="324.66" cy="167.8" r="1.45" fill="#43BF71" fill-opacity="0.15"/>
<circle cx="328.49" cy="196.18" r="1.45" fill="#43BF71" fill-opacity="0.15"/>
<circle cx="321.38" cy="252.53" r="1.45" fill="#43BF71" fill-opacity="0.15"/>
<circle cx="296.78" cy="169.58" r="1.45" fill="#43BF71" fill-opacity="0.15"/>
<circle cx="295.71" cy="169.64" r="1.45" fill="#43BF71" fill-opacity="0.15"/>
<circle cx="307.66" cy="197.15" r="1.45" fill="#43BF71" fill-opacity="0.15"/>
<circle cx="325.44" cy="168.62" r="1.45" fill="#43BF71" fill-opacity="0.15"/>
<circle cx="324.69" cy="169.43" r="1.45" fill="#43BF71" fill-opacity="0.15"/>
<circle cx="311.87" cy="168.12" r="1.45" fill="#43BF71" fill-opacity="0.15"/>
<circle cx="300.66" cy="196.63" r="1.45" fill="#43BF71" fill-opacity="0.15"/>
<circle cx="297.67" cy="182.5" r="1.45" fill="#43BF71" fill-opacity="0.15"/>
<circle cx="319.05" cy="169.12" r="1.45" fill="#43BF71" fill-opacity="0.15"/>
<circle cx="321.62" cy="168.14" r="1.45" fill="#43BF71" fill-opacity="0.15"/>
<circle cx="301.06" cy="210.34" r="1.45" fill="#43BF71" fill-opacity="0.15"/>
<circle cx="318.77" cy="169.25" r="1.45" fill="#43BF71" fill-opacity="0.15"/>
<circle cx="328.94" cy="239.64" r="1.45" fill="#43BF71" fill-opacity="0.15"/>
<circle cx="293.55" cy="168.31" r="1.45" fill="#43BF71" fill-opacity="0.15"/>
<circle cx="325.63" cy="196.21" r="1.45" fill="#43BF71" fill-opacity="0.15"/>
<circle cx="297.23" cy="182.04" r="1.45" fill="#43BF71" fill-opacity="0.15"/>
<circle cx="325.68" cy="168.94" r="1.45" fill="#43BF71" fill-opacity="0.15"/>
<circle cx="309.84" cy="169.67" r="1.45" fill="#43BF71" fill-opacity="0.15"/>
<circle cx="294.26" cy="204.23" r="1.45" fill="#43BF71" fill-opacity="0.15"/>
<circle cx="300.97" cy="183.67" r="1.45" fill="#43BF71" fill-opacity="0.15"/>
<circle cx="325.75" cy="168.18" r="1.45" fill="#43BF71" fill-opacity="0.15"/>
<circle cx="322.81" cy="169.63" r="1.45" fill="#43BF71" fill-opacity="0.15"/>
<circle cx="319.19" cy="209.9" r="1.45" fill="#43BF71" fill-opacity="0.15"/>
<circle cx="323.32" cy="183.72" r="1.45" fill="#43BF71" fill-opacity="0.15"/>
<circle cx="324.52" cy="170.21" r="1.45" fill="#43BF71" fill-opacity="0.15"/>
<circle cx="304.7" cy="169.16" r="1.45" fill="#43BF71" fill-opacity="0.15"/>
<circle cx="319.2" cy="211.33" r="1.45" fill="#43BF71" fill-opacity="0.15"/>
<circle cx="307.96" cy="240.06" r="1.45" fill="#43BF71" fill-opacity="0.15"/>
<circle cx="296.23" cy="169.66" r="1.45" fill="#43BF71" fill-opacity="0.15"/>
<circle cx="310.47" cy="169.75" r="1.45" fill="#43BF71" fill-opacity="0.15"/>
<circle cx="310.17" cy="195.93" r="1.45" fill="#43BF71" fill-opacity="0.15"/>
<circle cx="295.81" cy="183.84" r="1.45" fill="#43BF71" fill-opacity="0.15"/>
<circle cx="308.5" cy="169.32" r="1.45" fill="#43BF71" fill-opacity="0.15"/>
<circle cx="324.34" cy="169.83" r="1.45" fill="#43BF71" fill-opacity="0.15"/>
<circle cx="305.95" cy="210.52" r="1.45" fill="#43BF71" fill-opacity="0.15"/>
<circle cx="303.92" cy="169.12" r="1.45" fill="#43BF71" fill-opacity="0.15"/>
<circle cx="298.4" cy="167.81" r="1.45" fill="#43BF71" fill-opacity="0.15"/>
<circle cx="317.59" cy="168.72" r="1.45" fill="#43BF71" fill-opacity="0.15"/>
<circle cx="299.74" cy="197.3" r="1.45" fill="#43BF71" fill-opacity="0.15"/>
<circle cx="304.82" cy="170.15" r="1.45" fill="#43BF71" fill-opacity="0.15"/>
<circle cx="385.88" cy="210.1" r="1.45" fill="#414487" fill-opacity="0.15"/>
<circle cx="385.26" cy="183.06" r="1.45" fill="#414487" fill-opacity="0.15"/>
<circle cx="386.63" cy="169.56" r="1.45" fill="#414487" fill-opacity="0.15"/>
<circle cx="383.21" cy="168.85" r="1.45" fill="#414487" fill-opacity="0.15"/>
<circle cx="374.05" cy="196.57" r="1.45" fill="#414487" fill-opacity="0.15"/>
<circle cx="381.49" cy="197.94" r="1.45" fill="#414487" fill-opacity="0.15"/>
<circle cx="406.1" cy="168.39" r="1.45" fill="#414487" fill-opacity="0.15"/>
<circle cx="408.38" cy="253.12" r="1.45" fill="#414487" fill-opacity="0.15"/>
<circle cx="391.19" cy="226.31" r="1.45" fill="#414487" fill-opacity="0.15"/>
<circle cx="379.74" cy="182.47" r="1.45" fill="#414487" fill-opacity="0.15"/>
<circle cx="374.67" cy="176.83" r="1.45" fill="#414487" fill-opacity="0.15"/>
<circle cx="377.13" cy="169.04" r="1.45" fill="#414487" fill-opacity="0.15"/>
<circle cx="377.62" cy="211.86" r="1.45" fill="#414487" fill-opacity="0.15"/>
<circle cx="390.69" cy="183.14" r="1.45" fill="#414487" fill-opacity="0.15"/>
<circle cx="405.47" cy="169.8" r="1.45" fill="#414487" fill-opacity="0.15"/>
<circle cx="395.71" cy="169.09" r="1.45" fill="#414487" fill-opacity="0.15"/>
<circle cx="373.76" cy="196.08" r="1.45" fill="#414487" fill-opacity="0.15"/>
<circle cx="391.71" cy="196.64" r="1.45" fill="#414487" fill-opacity="0.15"/>
<circle cx="391.18" cy="168.91" r="1.45" fill="#414487" fill-opacity="0.15"/>
<circle cx="406.55" cy="168.95" r="1.45" fill="#414487" fill-opacity="0.15"/>
<circle cx="398.72" cy="197.4" r="1.45" fill="#414487" fill-opacity="0.15"/>
<circle cx="390.56" cy="183.42" r="1.45" fill="#414487" fill-opacity="0.15"/>
<circle cx="380.15" cy="167.95" r="1.45" fill="#414487" fill-opacity="0.15"/>
<circle cx="401.7" cy="231.44" r="1.45" fill="#414487" fill-opacity="0.15"/>
<circle cx="400.59" cy="197.51" r="1.45" fill="#414487" fill-opacity="0.15"/>
<circle cx="390.89" cy="182.1" r="1.45" fill="#414487" fill-opacity="0.15"/>
<circle cx="400.57" cy="167.86" r="1.45" fill="#414487" fill-opacity="0.15"/>
<circle cx="394.42" cy="167.92" r="1.45" fill="#414487" fill-opacity="0.15"/>
<circle cx="376.97" cy="196.35" r="1.45" fill="#414487" fill-opacity="0.15"/>
<circle cx="399.47" cy="183.15" r="1.45" fill="#414487" fill-opacity="0.15"/>
<circle cx="391.08" cy="169.97" r="1.45" fill="#414487" fill-opacity="0.15"/>
<circle cx="386.63" cy="169.51" r="1.45" fill="#414487" fill-opacity="0.15"/>
<circle cx="393.89" cy="197.24" r="1.45" fill="#414487" fill-opacity="0.15"/>
<circle cx="387.74" cy="182.08" r="1.45" fill="#414487" fill-opacity="0.15"/>
<circle cx="374.93" cy="245.07" r="1.45" fill="#414487" fill-opacity="0.15"/>
<circle cx="404.47" cy="168.69" r="1.45" fill="#414487" fill-opacity="0.15"/>
<circle cx="404.21" cy="196.16" r="1.45" fill="#414487" fill-opacity="0.15"/>
<circle cx="376.21" cy="184.2" r="1.45" fill="#414487" fill-opacity="0.15"/>
<circle cx="404.87" cy="168.7" r="1.45" fill="#414487" fill-opacity="0.15"/>
<circle cx="407.78" cy="168.67" r="1.45" fill="#414487" fill-opacity="0.15"/>
<circle cx="382.65" cy="196.19" r="1.45" fill="#414487" fill-opacity="0.15"/>
<circle cx="381.34" cy="175.07" r="1.45" fill="#414487" fill-opacity="0.15"/>
<circle cx="384.15" cy="174.72" r="1.45" fill="#414487" fill-opacity="0.15"/>
<circle cx="392.49" cy="231.84" r="1.45" fill="#414487" fill-opacity="0.15"/>
<circle cx="402.33" cy="210.05" r="1.45" fill="#414487" fill-opacity="0.15"/>
<circle cx="402.95" cy="183.09" r="1.45" fill="#414487" fill-opacity="0.15"/>
<circle cx="440.88" cy="197.91" r="1.45" fill="#26838E" fill-opacity="0.15"/>
<circle cx="433.18" cy="176.89" r="1.45" fill="#26838E" fill-opacity="0.15"/>
<circle cx="443.7" cy="168.81" r="1.45" fill="#26838E" fill-opacity="0.15"/>
<circle cx="450.84" cy="169.28" r="1.45" fill="#26838E" fill-opacity="0.15"/>
<circle cx="426.41" cy="190.03" r="1.45" fill="#26838E" fill-opacity="0.15"/>
<circle cx="427.68" cy="168.27" r="1.45" fill="#26838E" fill-opacity="0.15"/>
<circle cx="444.28" cy="169.28" r="1.45" fill="#26838E" fill-opacity="0.15"/>
<circle cx="450.46" cy="211.45" r="1.45" fill="#26838E" fill-opacity="0.15"/>
<circle cx="429.21" cy="182.57" r="1.45" fill="#26838E" fill-opacity="0.15"/>
<circle cx="451.31" cy="169.6" r="1.45" fill="#26838E" fill-opacity="0.15"/>
<circle cx="434.52" cy="169.69" r="1.45" fill="#26838E" fill-opacity="0.15"/>
<circle cx="449.64" cy="168.48" r="1.45" fill="#26838E" fill-opacity="0.15"/>
<circle cx="440.3" cy="210.9" r="1.45" fill="#26838E" fill-opacity="0.15"/>
<circle cx="448.51" cy="169.51" r="1.45" fill="#26838E" fill-opacity="0.15"/>
<circle cx="435.43" cy="168.42" r="1.45" fill="#26838E" fill-opacity="0.15"/>
<circle cx="424.3" cy="167.92" r="1.45" fill="#26838E" fill-opacity="0.15"/>
<circle cx="450.72" cy="182.39" r="1.45" fill="#26838E" fill-opacity="0.15"/>
<circle cx="437.73" cy="170.15" r="1.45" fill="#26838E" fill-opacity="0.15"/>
<circle cx="434.77" cy="167.96" r="1.45" fill="#26838E" fill-opacity="0.15"/>
<circle cx="418.18" cy="170.15" r="1.45" fill="#26838E" fill-opacity="0.15"/>
<circle cx="429.4" cy="183.32" r="1.45" fill="#26838E" fill-opacity="0.15"/>
<circle cx="422.08" cy="168.84" r="1.45" fill="#26838E" fill-opacity="0.15"/>
<circle cx="427.37" cy="169.9" r="1.45" fill="#26838E" fill-opacity="0.15"/>
<circle cx="443.27" cy="169.04" r="1.45" fill="#26838E" fill-opacity="0.15"/>
<circle cx="416.42" cy="181.92" r="1.45" fill="#26838E" fill-opacity="0.15"/>
<circle cx="437.46" cy="168.1" r="1.45" fill="#26838E" fill-opacity="0.15"/>
<circle cx="452.02" cy="167.75" r="1.45" fill="#26838E" fill-opacity="0.15"/>
<circle cx="449.59" cy="170.12" r="1.45" fill="#26838E" fill-opacity="0.15"/>
<circle cx="428.43" cy="182.36" r="1.45" fill="#26838E" fill-opacity="0.15"/>
<circle cx="432.33" cy="168.24" r="1.45" fill="#26838E" fill-opacity="0.15"/>
<circle cx="420.04" cy="167.86" r="1.45" fill="#26838E" fill-opacity="0.15"/>
<circle cx="451.92" cy="168.96" r="1.45" fill="#26838E" fill-opacity="0.15"/>
<circle cx="426.49" cy="182.27" r="1.45" fill="#26838E" fill-opacity="0.15"/>
<circle cx="423.11" cy="168.32" r="1.45" fill="#26838E" fill-opacity="0.15"/>
<circle cx="432.59" cy="169.56" r="1.45" fill="#26838E" fill-opacity="0.15"/>
<circle cx="419.85" cy="168.54" r="1.45" fill="#26838E" fill-opacity="0.15"/>
<circle cx="425.16" cy="183.34" r="1.45" fill="#26838E" fill-opacity="0.15"/>
<circle cx="446.68" cy="176.19" r="1.45" fill="#26838E" fill-opacity="0.15"/>
<circle cx="425.7" cy="169.73" r="1.45" fill="#26838E" fill-opacity="0.15"/>
<circle cx="419.79" cy="169.57" r="1.45" fill="#26838E" fill-opacity="0.15"/>
<circle cx="426.74" cy="210.32" r="1.45" fill="#26838E" fill-opacity="0.15"/>
<circle cx="418.63" cy="197.99" r="1.45" fill="#26838E" fill-opacity="0.15"/>
<circle cx="451.75" cy="169.75" r="1.45" fill="#26838E" fill-opacity="0.15"/>
<circle cx="445.14" cy="170.03" r="1.45" fill="#26838E" fill-opacity="0.15"/>
<circle cx="422.36" cy="183.59" r="1.45" fill="#26838E" fill-opacity="0.15"/>
<circle cx="432.01" cy="169.81" r="1.45" fill="#26838E" fill-opacity="0.15"/>
<circle cx="467.65" cy="197.23" r="1.45" fill="#43BF71" fill-opacity="0.15"/>
<circle cx="488.3" cy="169.92" r="1.45" fill="#43BF71" fill-opacity="0.15"/>
<circle cx="462.2" cy="168" r="1.45" fill="#43BF71" fill-opacity="0.15"/>
<circle cx="479.33" cy="168.32" r="1.45" fill="#43BF71" fill-opacity="0.15"/>
<circle cx="482.4" cy="238.01" r="1.45" fill="#43BF71" fill-opacity="0.15"/>
<circle cx="470.39" cy="253.17" r="1.45" fill="#43BF71" fill-opacity="0.15"/>
<circle cx="479.33" cy="169.32" r="1.45" fill="#43BF71" fill-opacity="0.15"/>
<circle cx="477.3" cy="253.81" r="1.45" fill="#43BF71" fill-opacity="0.15"/>
<circle cx="478.35" cy="197.85" r="1.45" fill="#43BF71" fill-opacity="0.15"/>
<circle cx="477.83" cy="168.24" r="1.45" fill="#43BF71" fill-opacity="0.15"/>
<circle cx="469.64" cy="169.27" r="1.45" fill="#43BF71" fill-opacity="0.15"/>
<circle cx="485.54" cy="168.99" r="1.45" fill="#43BF71" fill-opacity="0.15"/>
<circle cx="472.13" cy="197.54" r="1.45" fill="#43BF71" fill-opacity="0.15"/>
<circle cx="487.46" cy="176.65" r="1.45" fill="#43BF71" fill-opacity="0.15"/>
<circle cx="469" cy="168.46" r="1.45" fill="#43BF71" fill-opacity="0.15"/>
<circle cx="478.09" cy="167.78" r="1.45" fill="#43BF71" fill-opacity="0.15"/>
<circle cx="471.32" cy="183.68" r="1.45" fill="#43BF71" fill-opacity="0.15"/>
<circle cx="472.48" cy="168.98" r="1.45" fill="#43BF71" fill-opacity="0.15"/>
<circle cx="489.79" cy="167.95" r="1.45" fill="#43BF71" fill-opacity="0.15"/>
<circle cx="494.31" cy="169.42" r="1.45" fill="#43BF71" fill-opacity="0.15"/>
<circle cx="489.93" cy="195.98" r="1.45" fill="#43BF71" fill-opacity="0.15"/>
<circle cx="466.1" cy="169.13" r="1.45" fill="#43BF71" fill-opacity="0.15"/>
<circle cx="475.02" cy="167.93" r="1.45" fill="#43BF71" fill-opacity="0.15"/>
<circle cx="473.23" cy="170.16" r="1.45" fill="#43BF71" fill-opacity="0.15"/>
<circle cx="471.17" cy="196.39" r="1.45" fill="#43BF71" fill-opacity="0.15"/>
<circle cx="483.49" cy="177.19" r="1.45" fill="#43BF71" fill-opacity="0.15"/>
<circle cx="491.97" cy="168.05" r="1.45" fill="#43BF71" fill-opacity="0.15"/>
<circle cx="460.47" cy="169.4" r="1.45" fill="#43BF71" fill-opacity="0.15"/>
<circle cx="463.57" cy="182.97" r="1.45" fill="#43BF71" fill-opacity="0.15"/>
<circle cx="491.71" cy="183.35" r="1.45" fill="#43BF71" fill-opacity="0.15"/>
<circle cx="467.95" cy="168.05" r="1.45" fill="#43BF71" fill-opacity="0.15"/>
<circle cx="488.4" cy="168.2" r="1.45" fill="#43BF71" fill-opacity="0.15"/>
<circle cx="461.12" cy="181.77" r="1.45" fill="#43BF71" fill-opacity="0.15"/>
<circle cx="489.54" cy="182.3" r="1.45" fill="#43BF71" fill-opacity="0.15"/>
<circle cx="468.54" cy="169.95" r="1.45" fill="#43BF71" fill-opacity="0.15"/>
<circle cx="475.82" cy="169.98" r="1.45" fill="#43BF71" fill-opacity="0.15"/>
<circle cx="472.47" cy="198.08" r="1.45" fill="#43BF71" fill-opacity="0.15"/>
<circle cx="477.78" cy="168.44" r="1.45" fill="#43BF71" fill-opacity="0.15"/>
<circle cx="478.21" cy="212.11" r="1.45" fill="#43BF71" fill-opacity="0.15"/>
<circle cx="473.14" cy="169.66" r="1.45" fill="#43BF71" fill-opacity="0.15"/>
<circle cx="486.63" cy="183.57" r="1.45" fill="#43BF71" fill-opacity="0.15"/>
<circle cx="494.67" cy="169.29" r="1.45" fill="#43BF71" fill-opacity="0.15"/>
<circle cx="464.98" cy="169.93" r="1.45" fill="#43BF71" fill-opacity="0.15"/>
<circle cx="495.18" cy="170.21" r="1.45" fill="#43BF71" fill-opacity="0.15"/>
<circle cx="465.38" cy="183.61" r="1.45" fill="#43BF71" fill-opacity="0.15"/>
<circle cx="461.26" cy="182.2" r="1.45" fill="#43BF71" fill-opacity="0.15"/>
<circle cx="540.78" cy="197.3" r="1.45" fill="#414487" fill-opacity="0.15"/>
<circle cx="545.56" cy="184.09" r="1.45" fill="#414487" fill-opacity="0.15"/>
<circle cx="567.06" cy="168.44" r="1.45" fill="#414487" fill-opacity="0.15"/>
<circle cx="565.11" cy="168.86" r="1.45" fill="#414487" fill-opacity="0.15"/>
<circle cx="546.52" cy="239.7" r="1.45" fill="#414487" fill-opacity="0.15"/>
<circle cx="566.07" cy="245.79" r="1.45" fill="#414487" fill-opacity="0.15"/>
<circle cx="559.1" cy="183.02" r="1.45" fill="#414487" fill-opacity="0.15"/>
<circle cx="561.8" cy="170.01" r="1.45" fill="#414487" fill-opacity="0.15"/>
<circle cx="568.35" cy="211.99" r="1.45" fill="#414487" fill-opacity="0.15"/>
<circle cx="561.58" cy="184.21" r="1.45" fill="#414487" fill-opacity="0.15"/>
<circle cx="547.87" cy="183.12" r="1.45" fill="#414487" fill-opacity="0.15"/>
<circle cx="544.01" cy="168.69" r="1.45" fill="#414487" fill-opacity="0.15"/>
<circle cx="541.09" cy="203.52" r="1.45" fill="#414487" fill-opacity="0.15"/>
<circle cx="542.41" cy="182.41" r="1.45" fill="#414487" fill-opacity="0.15"/>
<circle cx="559.21" cy="167.76" r="1.45" fill="#414487" fill-opacity="0.15"/>
<circle cx="573.5" cy="169.44" r="1.45" fill="#414487" fill-opacity="0.15"/>
<circle cx="553.04" cy="224.18" r="1.45" fill="#414487" fill-opacity="0.15"/>
<circle cx="573.15" cy="196.22" r="1.45" fill="#414487" fill-opacity="0.15"/>
<circle cx="544.07" cy="182.97" r="1.45" fill="#414487" fill-opacity="0.15"/>
<circle cx="567.79" cy="169.1" r="1.45" fill="#414487" fill-opacity="0.15"/>
<circle cx="566.9" cy="224.84" r="1.45" fill="#414487" fill-opacity="0.15"/>
<circle cx="557.16" cy="183.86" r="1.45" fill="#414487" fill-opacity="0.15"/>
<circle cx="554.6" cy="168.28" r="1.45" fill="#414487" fill-opacity="0.15"/>
<circle cx="562.84" cy="167.82" r="1.45" fill="#414487" fill-opacity="0.15"/>
<circle cx="551.84" cy="211.7" r="1.45" fill="#414487" fill-opacity="0.15"/>
<circle cx="550.65" cy="196.19" r="1.45" fill="#414487" fill-opacity="0.15"/>
<circle cx="544.23" cy="168.21" r="1.45" fill="#414487" fill-opacity="0.15"/>
<circle cx="545.39" cy="168.44" r="1.45" fill="#414487" fill-opacity="0.15"/>
<circle cx="556.11" cy="239.36" r="1.45" fill="#414487" fill-opacity="0.15"/>
<circle cx="544.89" cy="182.12" r="1.45" fill="#414487" fill-opacity="0.15"/>
<circle cx="554.92" cy="168.58" r="1.45" fill="#414487" fill-opacity="0.15"/>
<circle cx="545.08" cy="168.09" r="1.45" fill="#414487" fill-opacity="0.15"/>
<circle cx="542.84" cy="225.19" r="1.45" fill="#414487" fill-opacity="0.15"/>
<circle cx="571.35" cy="246.37" r="1.45" fill="#414487" fill-opacity="0.15"/>
<circle cx="574.83" cy="182.11" r="1.45" fill="#414487" fill-opacity="0.15"/>
<circle cx="551.77" cy="169.78" r="1.45" fill="#414487" fill-opacity="0.15"/>
<circle cx="550.34" cy="211.97" r="1.45" fill="#414487" fill-opacity="0.15"/>
<circle cx="559.92" cy="184.11" r="1.45" fill="#414487" fill-opacity="0.15"/>
<circle cx="569.33" cy="183.62" r="1.45" fill="#414487" fill-opacity="0.15"/>
<circle cx="547.31" cy="167.89" r="1.45" fill="#414487" fill-opacity="0.15"/>
<circle cx="570.41" cy="196.41" r="1.45" fill="#414487" fill-opacity="0.15"/>
<circle cx="540.09" cy="183.02" r="1.45" fill="#414487" fill-opacity="0.15"/>
<circle cx="562.76" cy="183.28" r="1.45" fill="#414487" fill-opacity="0.15"/>
<circle cx="568.41" cy="168.65" r="1.45" fill="#414487" fill-opacity="0.15"/>
<circle cx="566.59" cy="211.02" r="1.45" fill="#414487" fill-opacity="0.15"/>
<circle cx="546.88" cy="182.19" r="1.45" fill="#414487" fill-opacity="0.15"/>
<circle cx="618.12" cy="196.03" r="1.45" fill="#26838E" fill-opacity="0.15"/>
<circle cx="597.76" cy="181.99" r="1.45" fill="#26838E" fill-opacity="0.15"/>
<circle cx="589.16" cy="169.82" r="1.45" fill="#26838E" fill-opacity="0.15"/>
<circle cx="615.89" cy="168.61" r="1.45" fill="#26838E" fill-opacity="0.15"/>
<circle cx="595.99" cy="190.54" r="1.45" fill="#26838E" fill-opacity="0.15"/>
<circle cx="583.96" cy="177.07" r="1.45" fill="#26838E" fill-opacity="0.15"/>
<circle cx="607.05" cy="168.2" r="1.45" fill="#26838E" fill-opacity="0.15"/>
<circle cx="593" cy="167.7" r="1.45" fill="#26838E" fill-opacity="0.15"/>
<circle cx="605.18" cy="182.71" r="1.45" fill="#26838E" fill-opacity="0.15"/>
<circle cx="599.79" cy="169.04" r="1.45" fill="#26838E" fill-opacity="0.15"/>
<circle cx="589.42" cy="169.25" r="1.45" fill="#26838E" fill-opacity="0.15"/>
<circle cx="602.28" cy="168.9" r="1.45" fill="#26838E" fill-opacity="0.15"/>
<circle cx="615.56" cy="183.6" r="1.45" fill="#26838E" fill-opacity="0.15"/>
<circle cx="603.98" cy="183.35" r="1.45" fill="#26838E" fill-opacity="0.15"/>
<circle cx="586.64" cy="168.1" r="1.45" fill="#26838E" fill-opacity="0.15"/>
<circle cx="610.7" cy="168.54" r="1.45" fill="#26838E" fill-opacity="0.15"/>
<circle cx="611.08" cy="198.06" r="1.45" fill="#26838E" fill-opacity="0.15"/>
<circle cx="595.35" cy="168.16" r="1.45" fill="#26838E" fill-opacity="0.15"/>
<circle cx="605.24" cy="168.94" r="1.45" fill="#26838E" fill-opacity="0.15"/>
<circle cx="592.66" cy="170.04" r="1.45" fill="#26838E" fill-opacity="0.15"/>
<circle cx="590.91" cy="211.73" r="1.45" fill="#26838E" fill-opacity="0.15"/>
<circle cx="616.29" cy="184.02" r="1.45" fill="#26838E" fill-opacity="0.15"/>
<circle cx="584.52" cy="169.96" r="1.45" fill="#26838E" fill-opacity="0.15"/>
<circle cx="600.14" cy="169.51" r="1.45" fill="#26838E" fill-opacity="0.15"/>
<circle cx="593" cy="196.83" r="1.45" fill="#26838E" fill-opacity="0.15"/>
<circle cx="600.1" cy="175.21" r="1.45" fill="#26838E" fill-opacity="0.15"/>
<circle cx="608.17" cy="168.94" r="1.45" fill="#26838E" fill-opacity="0.15"/>
<circle cx="617.61" cy="169.52" r="1.45" fill="#26838E" fill-opacity="0.15"/>
<circle cx="611.59" cy="183.61" r="1.45" fill="#26838E" fill-opacity="0.15"/>
<circle cx="611.42" cy="182.63" r="1.45" fill="#26838E" fill-opacity="0.15"/>
<circle cx="591.56" cy="169.77" r="1.45" fill="#26838E" fill-opacity="0.15"/>
<circle cx="585.67" cy="168.41" r="1.45" fill="#26838E" fill-opacity="0.15"/>
<circle cx="607.01" cy="196.67" r="1.45" fill="#26838E" fill-opacity="0.15"/>
<circle cx="597.54" cy="183.28" r="1.45" fill="#26838E" fill-opacity="0.15"/>
<circle cx="596.73" cy="168.57" r="1.45" fill="#26838E" fill-opacity="0.15"/>
<circle cx="617.02" cy="167.81" r="1.45" fill="#26838E" fill-opacity="0.15"/>
<circle cx="590.89" cy="182.14" r="1.45" fill="#26838E" fill-opacity="0.15"/>
<circle cx="613.93" cy="168.11" r="1.45" fill="#26838E" fill-opacity="0.15"/>
<circle cx="595.5" cy="169.42" r="1.45" fill="#26838E" fill-opacity="0.15"/>
<circle cx="588.36" cy="168.52" r="1.45" fill="#26838E" fill-opacity="0.15"/>
<circle cx="585.91" cy="190.44" r="1.45" fill="#26838E" fill-opacity="0.15"/>
<circle cx="594.08" cy="175.1" r="1.45" fill="#26838E" fill-opacity="0.15"/>
<circle cx="582.65" cy="169.22" r="1.45" fill="#26838E" fill-opacity="0.15"/>
<circle cx="595.75" cy="168.04" r="1.45" fill="#26838E" fill-opacity="0.15"/>
<circle cx="583.09" cy="183.62" r="1.45" fill="#26838E" fill-opacity="0.15"/>
<circle cx="591.09" cy="168.94" r="1.45" fill="#26838E" fill-opacity="0.15"/>
<circle cx="657.15" cy="195.81" r="1.45" fill="#43BF71" fill-opacity="0.15"/>
<circle cx="654.37" cy="175.44" r="1.45" fill="#43BF71" fill-opacity="0.15"/>
<circle cx="644.64" cy="169.82" r="1.45" fill="#43BF71" fill-opacity="0.15"/>
<circle cx="645.84" cy="168.42" r="1.45" fill="#43BF71" fill-opacity="0.15"/>
<circle cx="654.47" cy="210.03" r="1.45" fill="#43BF71" fill-opacity="0.15"/>
<circle cx="628.85" cy="197.38" r="1.45" fill="#43BF71" fill-opacity="0.15"/>
<circle cx="649.06" cy="168.58" r="1.45" fill="#43BF71" fill-opacity="0.15"/>
<circle cx="642.01" cy="253.38" r="1.45" fill="#43BF71" fill-opacity="0.15"/>
<circle cx="629.25" cy="197.87" r="1.45" fill="#43BF71" fill-opacity="0.15"/>
<circle cx="632.7" cy="183.73" r="1.45" fill="#43BF71" fill-opacity="0.15"/>
<circle cx="642.55" cy="168.37" r="1.45" fill="#43BF71" fill-opacity="0.15"/>
<circle cx="641.25" cy="170.07" r="1.45" fill="#43BF71" fill-opacity="0.15"/>
<circle cx="643.35" cy="238.58" r="1.45" fill="#43BF71" fill-opacity="0.15"/>
<circle cx="639.98" cy="191.16" r="1.45" fill="#43BF71" fill-opacity="0.15"/>
<circle cx="656.99" cy="170.07" r="1.45" fill="#43BF71" fill-opacity="0.15"/>
<circle cx="633.15" cy="169.12" r="1.45" fill="#43BF71" fill-opacity="0.15"/>
<circle cx="627.16" cy="254.28" r="1.45" fill="#43BF71" fill-opacity="0.15"/>
<circle cx="655.36" cy="181.82" r="1.45" fill="#43BF71" fill-opacity="0.15"/>
<circle cx="634.6" cy="169.24" r="1.45" fill="#43BF71" fill-opacity="0.15"/>
<circle cx="642.91" cy="169.26" r="1.45" fill="#43BF71" fill-opacity="0.15"/>
<circle cx="646.74" cy="238.44" r="1.45" fill="#43BF71" fill-opacity="0.15"/>
<circle cx="652.53" cy="181.77" r="1.45" fill="#43BF71" fill-opacity="0.15"/>
<circle cx="658.36" cy="169.52" r="1.45" fill="#43BF71" fill-opacity="0.15"/>
<circle cx="638.83" cy="168.76" r="1.45" fill="#43BF71" fill-opacity="0.15"/>
<circle cx="644.75" cy="211.53" r="1.45" fill="#43BF71" fill-opacity="0.15"/>
<circle cx="645.58" cy="252.2" r="1.45" fill="#43BF71" fill-opacity="0.15"/>
<circle cx="657.01" cy="253.43" r="1.45" fill="#43BF71" fill-opacity="0.15"/>
<circle cx="636.13" cy="168.36" r="1.45" fill="#43BF71" fill-opacity="0.15"/>
<circle cx="630.49" cy="238.78" r="1.45" fill="#43BF71" fill-opacity="0.15"/>
<circle cx="658" cy="183.65" r="1.45" fill="#43BF71" fill-opacity="0.15"/>
<circle cx="652.06" cy="168.1" r="1.45" fill="#43BF71" fill-opacity="0.15"/>
<circle cx="630.28" cy="168.66" r="1.45" fill="#43BF71" fill-opacity="0.15"/>
<circle cx="657.14" cy="204.23" r="1.45" fill="#43BF71" fill-opacity="0.15"/>
<circle cx="631.47" cy="252.48" r="1.45" fill="#43BF71" fill-opacity="0.15"/>
<circle cx="634.93" cy="170.17" r="1.45" fill="#43BF71" fill-opacity="0.15"/>
<circle cx="639.49" cy="168.09" r="1.45" fill="#43BF71" fill-opacity="0.15"/>
<circle cx="630.78" cy="197.48" r="1.45" fill="#43BF71" fill-opacity="0.15"/>
<circle cx="629.56" cy="196.85" r="1.45" fill="#43BF71" fill-opacity="0.15"/>
<circle cx="654.77" cy="168.14" r="1.45" fill="#43BF71" fill-opacity="0.15"/>
<circle cx="625.2" cy="169.64" r="1.45" fill="#43BF71" fill-opacity="0.15"/>
<circle cx="653.05" cy="203.4" r="1.45" fill="#43BF71" fill-opacity="0.15"/>
<circle cx="655.25" cy="183.44" r="1.45" fill="#43BF71" fill-opacity="0.15"/>
<circle cx="639.32" cy="252.73" r="1.45" fill="#43BF71" fill-opacity="0.15"/>
<circle cx="646.98" cy="168.18" r="1.45" fill="#43BF71" fill-opacity="0.15"/>
<circle cx="650.22" cy="211.98" r="1.45" fill="#43BF71" fill-opacity="0.15"/>
<circle cx="625.39" cy="176.46" r="1.45" fill="#43BF71" fill-opacity="0.15"/></g>
<g><line x1="53.1" y1="52.3" x2="53.1" y2="38.2" stroke="#414487" stroke-width="0.8"/>
<line x1="53.1" y1="80.5" x2="53.1" y2="122.8" stroke="#414487" stroke-width="0.8"/>
<rect x="41.1" y="52.3" width="24" height="28.2" fill="none" stroke="#414487" stroke-width="0.8"/>
<line x1="41.1" y1="59.35" x2="65.1" y2="59.35" stroke="#414487" stroke-width="1.4"/>
<line x1="85.55" y1="52.3" x2="85.55" y2="73.45" stroke="#26838E" stroke-width="0.8"/>
<rect x="73.55" y="38.2" width="24" height="14.1" fill="none" stroke="#26838E" stroke-width="0.8"/>
<line x1="73.55" y1="52.3" x2="97.55" y2="52.3" stroke="#26838E" stroke-width="1.4"/>
<circle cx="85.55" cy="80.5" r="1.4" fill="#26838E" fill-opacity="0.3"/>
<circle cx="85.55" cy="108.7" r="1.4" fill="#26838E" fill-opacity="0.3"/>
<line x1="118" y1="52.3" x2="118" y2="38.2" stroke="#43BF71" stroke-width="0.8"/>
<line x1="118" y1="66.4" x2="118" y2="80.5" stroke="#43BF71" stroke-width="0.8"/>
<rect x="106" y="52.3" width="24" height="14.1" fill="none" stroke="#43BF71" stroke-width="0.8"/>
<line x1="106" y1="52.3" x2="130" y2="52.3" stroke="#43BF71" stroke-width="1.4"/>
<circle cx="118" cy="94.6" r="1.4" fill="#43BF71" fill-opacity="0.47"/>
<circle cx="118" cy="122.8" r="1.4" fill="#43BF71" fill-opacity="0.26"/>
<line x1="186.1" y1="52.5" x2="186.1" y2="38.1" stroke="#414487" stroke-width="0.8"/>
<line x1="186.1" y1="81.3" x2="186.1" y2="124.5" stroke="#414487" stroke-width="0.8"/>
<rect x="174.1" y="52.5" width="24" height="28.8" fill="none" stroke="#414487" stroke-width="0.8"/>
<line x1="174.1" y1="66.9" x2="198.1" y2="66.9" stroke="#414487" stroke-width="1.4"/>
<line x1="218.55" y1="66.9" x2="218.55" y2="81.3" stroke="#26838E" stroke-width="0.8"/>
<rect x="206.55" y="38.1" width="24" height="28.8" fill="none" stroke="#26838E" stroke-width="0.8"/>
<line x1="206.55" y1="52.5" x2="230.55" y2="52.5" stroke="#26838E" stroke-width="1.4"/>
<circle cx="218.55" cy="117.3" r="1.4" fill="#26838E" fill-opacity="0.3"/>
<line x1="251" y1="52.5" x2="251" y2="38.1" stroke="#43BF71" stroke-width="0.8"/>
<line x1="251" y1="66.9" x2="251" y2="81.3" stroke="#43BF71" stroke-width="0.8"/>
<rect x="239" y="52.5" width="24" height="14.4" fill="none" stroke="#43BF71" stroke-width="0.8"/>
<line x1="239" y1="52.5" x2="263" y2="52.5" stroke="#43BF71" stroke-width="1.4"/>
<circle cx="251" cy="95.7" r="1.4" fill="#43BF71" fill-opacity="0.34"/>
<circle cx="251" cy="110.1" r="1.4" fill="#43BF71" fill-opacity="0.34"/>
<line x1="319.1" y1="71.74" x2="319.1" y2="121.9" stroke="#414487" stroke-width="0.8"/>
<rect x="307.1" y="38.3" width="24" height="33.44" fill="none" stroke="#414487" stroke-width="0.8"/>
<line x1="307.1" y1="55.02" x2="331.1" y2="55.02" stroke="#414487" stroke-width="1.4"/>
<line x1="351.55" y1="55.02" x2="351.55" y2="80.1" stroke="#26838E" stroke-width="0.8"/>
<rect x="339.55" y="38.3" width="24" height="16.72" fill="none" stroke="#26838E" stroke-width="0.8"/>
<line x1="339.55" y1="55.02" x2="363.55" y2="55.02" stroke="#26838E" stroke-width="1.4"/>
<circle cx="351.55" cy="88.46" r="1.4" fill="#26838E" fill-opacity="0.85"/>
<line x1="384" y1="63.38" x2="384" y2="88.46" stroke="#43BF71" stroke-width="0.8"/>
<rect x="372" y="38.3" width="24" height="25.08" fill="none" stroke="#43BF71" stroke-width="0.8"/>
<line x1="372" y1="55.02" x2="396" y2="55.02" stroke="#43BF71" stroke-width="1.4"/>
<line x1="452.1" y1="59.72" x2="452.1" y2="88.58" stroke="#414487" stroke-width="0.8"/>
<rect x="440.1" y="38.07" width="24" height="21.65" fill="none" stroke="#414487" stroke-width="0.8"/>
<line x1="440.1" y1="52.5" x2="464.1" y2="52.5" stroke="#414487" stroke-width="1.4"/>
<circle cx="452.1" cy="95.79" r="1.4" fill="#414487" fill-opacity="0.42"/>
<line x1="484.55" y1="52.5" x2="484.55" y2="59.72" stroke="#26838E" stroke-width="0.8"/>
<rect x="472.55" y="38.07" width="24" height="14.43" fill="none" stroke="#26838E" stroke-width="0.8"/>
<line x1="472.55" y1="45.28" x2="496.55" y2="45.28" stroke="#26838E" stroke-width="1.4"/>
<circle cx="484.55" cy="81.36" r="1.4" fill="#26838E" fill-opacity="0.8"/>
<line x1="517" y1="52.5" x2="517" y2="66.93" stroke="#43BF71" stroke-width="0.8"/>
<rect x="505" y="38.07" width="24" height="14.43" fill="none" stroke="#43BF71" stroke-width="0.8"/>
<line x1="505" y1="52.5" x2="529" y2="52.5" stroke="#43BF71" stroke-width="1.4"/>
<circle cx="517" cy="81.36" r="1.4" fill="#43BF71" fill-opacity="0.8"/>
<circle cx="517" cy="95.79" r="1.4" fill="#43BF71" fill-opacity="0.38"/>
<circle cx="517" cy="124.65" r="1.4" fill="#43BF71" fill-opacity="0.38"/>
<line x1="585.1" y1="46.9" x2="585.1" y2="38.4" stroke="#414487" stroke-width="0.8"/>
<line x1="585.1" y1="72.4" x2="585.1" y2="97.9" stroke="#414487" stroke-width="0.8"/>
<rect x="573.1" y="46.9" width="24" height="25.5" fill="none" stroke="#414487" stroke-width="0.8"/>
<line x1="573.1" y1="55.4" x2="597.1" y2="55.4" stroke="#414487" stroke-width="1.4"/>
<line x1="617.55" y1="55.4" x2="617.55" y2="80.9" stroke="#26838E" stroke-width="0.8"/>
<rect x="605.55" y="38.4" width="24" height="17" fill="none" stroke="#26838E" stroke-width="0.8"/>
<line x1="605.55" y1="46.9" x2="629.55" y2="46.9" stroke="#26838E" stroke-width="1.4"/>
<circle cx="617.55" cy="89.4" r="1.4" fill="#26838E" fill-opacity="0.8"/>
<circle cx="617.55" cy="106.4" r="1.4" fill="#26838E" fill-opacity="0.3"/>
<line x1="650" y1="63.9" x2="650" y2="89.4" stroke="#43BF71" stroke-width="0.8"/>
<rect x="638" y="38.4" width="24" height="25.5" fill="none" stroke="#43BF71" stroke-width="0.8"/>
<line x1="638" y1="55.4" x2="662" y2="55.4" stroke="#43BF71" stroke-width="1.4"/>
<circle cx="650" cy="106.4" r="1.4" fill="#43BF71" fill-opacity="0.3"/>
<line x1="59.3" y1="183" x2="59.3" y2="169" stroke="#414487" stroke-width="0.8"/>
<line x1="59.3" y1="239" x2="59.3" y2="253" stroke="#414487" stroke-width="0.8"/>
<rect x="43.2" y="183" width="32.2" height="56" fill="none" stroke="#414487" stroke-width="0.8"/>
<line x1="43.2" y1="204" x2="75.4" y2="204" stroke="#414487" stroke-width="1.4"/>
<line x1="102.25" y1="197" x2="102.25" y2="239" stroke="#26838E" stroke-width="0.8"/>
<rect x="86.15" y="169" width="32.2" height="28" fill="none" stroke="#26838E" stroke-width="0.8"/>
<line x1="86.15" y1="183" x2="118.35" y2="183" stroke="#26838E" stroke-width="1.4"/>
<line x1="145.2" y1="183" x2="145.2" y2="169" stroke="#43BF71" stroke-width="0.8"/>
<line x1="145.2" y1="211" x2="145.2" y2="253" stroke="#43BF71" stroke-width="0.8"/>
<rect x="129.1" y="183" width="32.2" height="28" fill="none" stroke="#43BF71" stroke-width="0.8"/>
<line x1="129.1" y1="197" x2="161.3" y2="197" stroke="#43BF71" stroke-width="1.4"/>
<line x1="225.3" y1="197.05" x2="225.3" y2="239.2" stroke="#414487" stroke-width="0.8"/>
<rect x="209.2" y="168.95" width="32.2" height="28.1" fill="none" stroke="#414487" stroke-width="0.8"/>
<line x1="209.2" y1="183" x2="241.4" y2="183" stroke="#414487" stroke-width="1.4"/>
<circle cx="225.3" cy="246.22" r="1.4" fill="#414487" fill-opacity="0.51"/>
<circle cx="225.3" cy="253.25" r="1.4" fill="#414487" fill-opacity="0.9"/>
<line x1="268.25" y1="183" x2="268.25" y2="197.05" stroke="#26838E" stroke-width="0.8"/>
<rect x="252.15" y="168.95" width="32.2" height="14.05" fill="none" stroke="#26838E" stroke-width="0.8"/>
<line x1="252.15" y1="168.95" x2="284.35" y2="168.95" stroke="#26838E" stroke-width="1.4"/>
<circle cx="268.25" cy="211.1" r="1.4" fill="#26838E" fill-opacity="0.8"/>
<line x1="311.2" y1="190.03" x2="311.2" y2="211.1" stroke="#43BF71" stroke-width="0.8"/>
<rect x="295.1" y="168.95" width="32.2" height="21.08" fill="none" stroke="#43BF71" stroke-width="0.8"/>
<line x1="295.1" y1="172.46" x2="327.3" y2="172.46" stroke="#43BF71" stroke-width="1.4"/>
<circle cx="311.2" cy="239.2" r="1.4" fill="#43BF71" fill-opacity="0.26"/>
<circle cx="311.2" cy="253.25" r="1.4" fill="#43BF71" fill-opacity="0.38"/>
<line x1="391.3" y1="191.43" x2="391.3" y2="225.15" stroke="#414487" stroke-width="0.8"/>
<rect x="375.2" y="168.95" width="32.2" height="22.48" fill="none" stroke="#414487" stroke-width="0.8"/>
<line x1="375.2" y1="175.97" x2="407.4" y2="175.97" stroke="#414487" stroke-width="1.4"/>
<circle cx="391.3" cy="232.18" r="1.4" fill="#414487" fill-opacity="0.38"/>
<circle cx="391.3" cy="246.22" r="1.4" fill="#414487" fill-opacity="0.38"/>
<circle cx="391.3" cy="253.25" r="1.4" fill="#414487" fill-opacity="0.9"/>
<line x1="434.25" y1="175.97" x2="434.25" y2="183" stroke="#26838E" stroke-width="0.8"/>
<rect x="418.15" y="168.95" width="32.2" height="7.03" fill="none" stroke="#26838E" stroke-width="0.8"/>
<line x1="418.15" y1="168.95" x2="450.35" y2="168.95" stroke="#26838E" stroke-width="1.4"/>
<circle cx="434.25" cy="190.03" r="1.4" fill="#26838E" fill-opacity="0.42"/>
<circle cx="434.25" cy="197.05" r="1.4" fill="#26838E" fill-opacity="0.51"/>
<circle cx="434.25" cy="211.1" r="1.4" fill="#26838E" fill-opacity="0.8"/>
<line x1="477.2" y1="183" x2="477.2" y2="197.05" stroke="#43BF71" stroke-width="0.8"/>
<rect x="461.1" y="168.95" width="32.2" height="14.05" fill="none" stroke="#43BF71" stroke-width="0.8"/>
<line x1="461.1" y1="168.95" x2="493.3" y2="168.95" stroke="#43BF71" stroke-width="1.4"/>
<circle cx="477.2" cy="211.1" r="1.4" fill="#43BF71" fill-opacity="0.8"/>
<circle cx="477.2" cy="239.2" r="1.4" fill="#43BF71" fill-opacity="0.3"/>
<circle cx="477.2" cy="253.25" r="1.4" fill="#43BF71" fill-opacity="0.42"/>
<line x1="557.3" y1="197.05" x2="557.3" y2="239.2" stroke="#414487" stroke-width="0.8"/>
<rect x="541.2" y="168.95" width="32.2" height="28.1" fill="none" stroke="#414487" stroke-width="0.8"/>
<line x1="541.2" y1="183" x2="573.4" y2="183" stroke="#414487" stroke-width="1.4"/>
<circle cx="557.3" cy="246.22" r="1.4" fill="#414487" fill-opacity="0.3"/>
<circle cx="557.3" cy="253.25" r="1.4" fill="#414487" fill-opacity="0.75"/>
<line x1="600.25" y1="183" x2="600.25" y2="197.05" stroke="#26838E" stroke-width="0.8"/>
<rect x="584.15" y="168.95" width="32.2" height="14.05" fill="none" stroke="#26838E" stroke-width="0.8"/>
<line x1="584.15" y1="168.95" x2="616.35" y2="168.95" stroke="#26838E" stroke-width="1.4"/>
<circle cx="600.25" cy="211.1" r="1.4" fill="#26838E" fill-opacity="0.85"/>
<line x1="643.2" y1="197.05" x2="643.2" y2="239.2" stroke="#43BF71" stroke-width="0.8"/>
<rect x="627.1" y="168.95" width="32.2" height="28.1" fill="none" stroke="#43BF71" stroke-width="0.8"/>
<line x1="627.1" y1="175.97" x2="659.3" y2="175.97" stroke="#43BF71" stroke-width="1.4"/>
<circle cx="643.2" cy="253.25" r="1.4" fill="#43BF71" fill-opacity="0.42"/></g>
<g><path d="M53.1 62.34C63.92 57.07 76.9 47.63 85.55 46.54C94.2 45.45 107.18 51.62 118 54.16L118 61.16C107.18 58.62 94.2 52.45 85.55 53.54C76.9 54.63 63.92 64.07 53.1 69.34Z" fill="#999" fill-opacity="0.25" stroke="none"/>
<path d="M53.1 65.84C63.92 60.57 76.9 51.13 85.55 50.04C94.2 48.95 107.18 55.12 118 57.66" fill="none" stroke="#8f8f8f" stroke-opacity="0.8" stroke-width="1.2"/>
<path d="M186.1 62.54C196.92 59.25 209.9 53.53 218.55 52.67C227.2 51.8 240.18 54.93 251 56.06L251 63.06C240.18 61.59 227.2 57.8 218.55 58.67C209.9 59.53 196.92 65.91 186.1 69.54Z" fill="#999" fill-opacity="0.25" stroke="none"/>
<path d="M186.1 66.04C196.92 62.58 209.9 56.53 218.55 55.67C227.2 54.8 240.18 58.26 251 59.56" fill="none" stroke="#8f8f8f" stroke-opacity="0.8" stroke-width="1.2"/>
<path d="M319.1 57.37C329.92 55.2 342.9 51.65 351.55 50.85C360.2 50.05 373.18 51.19 384 51.35L384 59.35C373.18 58.52 360.2 56.05 351.55 56.85C342.9 57.65 329.92 62.53 319.1 65.37Z" fill="#999" fill-opacity="0.25" stroke="none"/>
<path d="M319.1 61.37C329.92 58.87 342.9 54.65 351.55 53.85C360.2 53.05 373.18 54.85 384 55.35" fill="none" stroke="#8f8f8f" stroke-opacity="0.8" stroke-width="1.2"/>
<path d="M452.1 49.5C462.92 47.5 475.9 43.8 484.55 43.51C493.2 43.22 506.18 46.06 517 47.34L517 53.34C506.18 51.73 493.2 48.22 484.55 48.51C475.9 48.8 462.92 53.17 452.1 55.5Z" fill="#999" fill-opacity="0.25" stroke="none"/>
<path d="M452.1 52.5C462.92 50.34 475.9 46.3 484.55 46.01C493.2 45.72 506.18 48.89 517 50.34" fill="none" stroke="#8f8f8f" stroke-opacity="0.8" stroke-width="1.2"/>
<path d="M585.1 56.33C595.92 53.43 608.9 48.07 617.55 47.64C626.2 47.21 639.18 51.29 650 53.11L650 62.11C639.18 59.29 626.2 53.34 617.55 53.64C608.9 53.94 595.92 60.77 585.1 64.33Z" fill="#999" fill-opacity="0.25" stroke="none"/>
<path d="M585.1 60.33C595.92 57.1 608.9 51 617.55 50.64C626.2 50.28 639.18 55.29 650 57.61" fill="none" stroke="#8f8f8f" stroke-opacity="0.8" stroke-width="1.2"/>
<path d="M59.3 199.4C73.62 193.62 97.95 182.44 102.25 182.06C106.55 181.68 130.88 188.51 145.2 191.74L145.2 206.74C130.88 201.85 106.55 191.83 102.25 192.06C97.95 192.29 73.62 204.95 59.3 211.4Z" fill="#999" fill-opacity="0.25" stroke="none"/>
<path d="M59.3 205.4C73.62 199.29 97.95 187.37 102.25 187.06C106.55 186.75 130.88 195.18 145.2 199.24" fill="none" stroke="#8f8f8f" stroke-opacity="0.8" stroke-width="1.2"/>
<path d="M225.3 185.03C239.62 180.64 263.95 172.21 268.25 171.88C272.55 171.55 296.88 176.23 311.2 178.41L311.2 190.41C296.88 187.9 272.55 182.65 268.25 182.88C263.95 183.11 239.62 190.98 225.3 195.03Z" fill="#999" fill-opacity="0.25" stroke="none"/>
<path d="M225.3 190.03C239.62 185.81 263.95 177.66 268.25 177.38C272.55 177.1 296.88 182.06 311.2 184.41" fill="none" stroke="#8f8f8f" stroke-opacity="0.8" stroke-width="1.2"/>
<path d="M391.3 184.32C405.62 180.36 429.95 172.78 434.25 172.44C438.55 172.1 462.88 175.86 477.2 177.56L477.2 189.56C462.88 187.52 438.55 183.2 434.25 183.44C429.95 183.68 405.62 190.7 391.3 194.32Z" fill="#999" fill-opacity="0.25" stroke="none"/>
<path d="M391.3 189.32C405.62 185.53 429.95 178.23 434.25 177.94C438.55 177.65 462.88 181.69 477.2 183.56" fill="none" stroke="#8f8f8f" stroke-opacity="0.8" stroke-width="1.2"/>
<path d="M557.3 185.03C571.62 181.11 595.96 173.58 600.25 173.28C604.54 172.99 628.88 177.17 643.2 179.11L643.2 191.11C628.88 188.83 604.54 184.09 600.25 184.28C595.96 184.48 571.62 191.44 557.3 195.03Z" fill="#999" fill-opacity="0.25" stroke="none"/>
<path d="M557.3 190.03C571.62 186.28 595.96 179.03 600.25 178.78C604.54 178.54 628.88 183 643.2 185.11" fill="none" stroke="#8f8f8f" stroke-opacity="0.8" stroke-width="1.2"/></g>
<g><path d="M33.5 31V129.1H137.7" fill="none" stroke="#4a4a4a" stroke-width="1.05"/>
<line x1="31.7" y1="108.7" x2="33.5" y2="108.7" stroke="#333" stroke-width="0.8"/>
<text x="30.7" y="112.9" text-anchor="end" class="tk">2</text>
<line x1="31.7" y1="80.5" x2="33.5" y2="80.5" stroke="#333" stroke-width="0.8"/>
<text x="30.7" y="84.7" text-anchor="end" class="tk">4</text>
<line x1="31.7" y1="52.3" x2="33.5" y2="52.3" stroke="#333" stroke-width="0.8"/>
<text x="30.7" y="56.5" text-anchor="end" class="tk">6</text>
<line x1="53.1" y1="129.1" x2="53.1" y2="130.9" stroke="#333" stroke-width="0.8"/>
<path fill="#4d4d4d" transform="translate(50.32,139.60) scale(0.00488,-0.00488)" d="M763 0H583V1147Q518 1085 412 1023Q307 961 223 930V1104Q374 1175 487 1276Q600 1377 647 1472H763Z"/>
<line x1="85.55" y1="129.1" x2="85.55" y2="130.9" stroke="#333" stroke-width="0.8"/>
<text x="85.55" y="139.6" text-anchor="middle" class="tk">2</text>
<line x1="118" y1="129.1" x2="118" y2="130.9" stroke="#333" stroke-width="0.8"/>
<text x="118" y="139.6" text-anchor="middle" class="tk">3</text>
<text x="86.85" y="125.2" text-anchor="middle" class="lb">Knowledge</text>
<path d="M166.5 31V129.1H270.7" fill="none" stroke="#4a4a4a" stroke-width="1.05"/>
<line x1="164.7" y1="110.1" x2="166.5" y2="110.1" stroke="#333" stroke-width="0.8"/>
<text x="163.7" y="114.3" text-anchor="end" class="tk">2</text>
<line x1="164.7" y1="81.3" x2="166.5" y2="81.3" stroke="#333" stroke-width="0.8"/>
<text x="163.7" y="85.5" text-anchor="end" class="tk">4</text>
<line x1="164.7" y1="52.5" x2="166.5" y2="52.5" stroke="#333" stroke-width="0.8"/>
<text x="163.7" y="56.7" text-anchor="end" class="tk">6</text>
<line x1="186.1" y1="129.1" x2="186.1" y2="130.9" stroke="#333" stroke-width="0.8"/>
<path fill="#4d4d4d" transform="translate(183.32,139.60) scale(0.00488,-0.00488)" d="M763 0H583V1147Q518 1085 412 1023Q307 961 223 930V1104Q374 1175 487 1276Q600 1377 647 1472H763Z"/>
<line x1="218.55" y1="129.1" x2="218.55" y2="130.9" stroke="#333" stroke-width="0.8"/>
<text x="218.55" y="139.6" text-anchor="middle" class="tk">2</text>
<line x1="251" y1="129.1" x2="251" y2="130.9" stroke="#333" stroke-width="0.8"/>
<text x="251" y="139.6" text-anchor="middle" class="tk">3</text>
<text x="223.45" y="125.7" text-anchor="middle" class="lb">Prevent</text>
<path d="M299.5 31V129.1H403.7" fill="none" stroke="#4a4a4a" stroke-width="1.05"/>
<line x1="297.7" y1="121.9" x2="299.5" y2="121.9" stroke="#333" stroke-width="0.8"/>
<text x="296.7" y="126.1" text-anchor="end" class="tk">2</text>
<line x1="297.7" y1="105.18" x2="299.5" y2="105.18" stroke="#333" stroke-width="0.8"/>
<text x="296.7" y="109.38" text-anchor="end" class="tk">3</text>
<line x1="297.7" y1="88.46" x2="299.5" y2="88.46" stroke="#333" stroke-width="0.8"/>
<text x="296.7" y="92.66" text-anchor="end" class="tk">4</text>
<line x1="297.7" y1="71.74" x2="299.5" y2="71.74" stroke="#333" stroke-width="0.8"/>
<text x="296.7" y="75.94" text-anchor="end" class="tk">5</text>
<line x1="297.7" y1="55.02" x2="299.5" y2="55.02" stroke="#333" stroke-width="0.8"/>
<text x="296.7" y="59.22" text-anchor="end" class="tk">6</text>
<line x1="297.7" y1="38.3" x2="299.5" y2="38.3" stroke="#333" stroke-width="0.8"/>
<text x="296.7" y="42.5" text-anchor="end" class="tk">7</text>
<line x1="319.1" y1="129.1" x2="319.1" y2="130.9" stroke="#333" stroke-width="0.8"/>
<path fill="#4d4d4d" transform="translate(316.32,139.60) scale(0.00488,-0.00488)" d="M763 0H583V1147Q518 1085 412 1023Q307 961 223 930V1104Q374 1175 487 1276Q600 1377 647 1472H763Z"/>
<line x1="351.55" y1="129.1" x2="351.55" y2="130.9" stroke="#333" stroke-width="0.8"/>
<text x="351.55" y="139.6" text-anchor="middle" class="tk">2</text>
<line x1="384" y1="129.1" x2="384" y2="130.9" stroke="#333" stroke-width="0.8"/>
<text x="384" y="139.6" text-anchor="middle" class="tk">3</text>
<text x="353.05" y="125.1" text-anchor="middle" class="lb">Intervene</text>
<path d="M432.5 31V129.1H536.7" fill="none" stroke="#4a4a4a" stroke-width="1.05"/>
<line x1="430.7" y1="110.22" x2="432.5" y2="110.22" stroke="#333" stroke-width="0.8"/>
<text x="429.7" y="114.42" text-anchor="end" class="tk">2</text>
<line x1="430.7" y1="81.36" x2="432.5" y2="81.36" stroke="#333" stroke-width="0.8"/>
<text x="429.7" y="85.56" text-anchor="end" class="tk">4</text>
<line x1="430.7" y1="52.5" x2="432.5" y2="52.5" stroke="#333" stroke-width="0.8"/>
<text x="429.7" y="56.7" text-anchor="end" class="tk">6</text>
<line x1="452.1" y1="129.1" x2="452.1" y2="130.9" stroke="#333" stroke-width="0.8"/>
<path fill="#4d4d4d" transform="translate(449.32,139.60) scale(0.00488,-0.00488)" d="M763 0H583V1147Q518 1085 412 1023Q307 961 223 930V1104Q374 1175 487 1276Q600 1377 647 1472H763Z"/>
<line x1="484.55" y1="129.1" x2="484.55" y2="130.9" stroke="#333" stroke-width="0.8"/>
<text x="484.55" y="139.6" text-anchor="middle" class="tk">2</text>
<line x1="517" y1="129.1" x2="517" y2="130.9" stroke="#333" stroke-width="0.8"/>
<text x="517" y="139.6" text-anchor="middle" class="tk">3</text>
<text x="483.9" y="124.1" text-anchor="middle" class="lb">Report</text>
<path d="M565.5 31V129.1H669.7" fill="none" stroke="#4a4a4a" stroke-width="1.05"/>
<line x1="563.7" y1="123.4" x2="565.5" y2="123.4" stroke="#333" stroke-width="0.8"/>
<text x="562.7" y="127.6" text-anchor="end" class="tk">2</text>
<line x1="563.7" y1="106.4" x2="565.5" y2="106.4" stroke="#333" stroke-width="0.8"/>
<text x="562.7" y="110.6" text-anchor="end" class="tk">3</text>
<line x1="563.7" y1="89.4" x2="565.5" y2="89.4" stroke="#333" stroke-width="0.8"/>
<text x="562.7" y="93.6" text-anchor="end" class="tk">4</text>
<line x1="563.7" y1="72.4" x2="565.5" y2="72.4" stroke="#333" stroke-width="0.8"/>
<text x="562.7" y="76.6" text-anchor="end" class="tk">5</text>
<line x1="563.7" y1="55.4" x2="565.5" y2="55.4" stroke="#333" stroke-width="0.8"/>
<text x="562.7" y="59.6" text-anchor="end" class="tk">6</text>
<line x1="563.7" y1="38.4" x2="565.5" y2="38.4" stroke="#333" stroke-width="0.8"/>
<text x="562.7" y="42.6" text-anchor="end" class="tk">7</text>
<line x1="585.1" y1="129.1" x2="585.1" y2="130.9" stroke="#333" stroke-width="0.8"/>
<path fill="#4d4d4d" transform="translate(582.32,139.60) scale(0.00488,-0.00488)" d="M763 0H583V1147Q518 1085 412 1023Q307 961 223 930V1104Q374 1175 487 1276Q600 1377 647 1472H763Z"/>
<line x1="617.55" y1="129.1" x2="617.55" y2="130.9" stroke="#333" stroke-width="0.8"/>
<text x="617.55" y="139.6" text-anchor="middle" class="tk">2</text>
<line x1="650" y1="129.1" x2="650" y2="130.9" stroke="#333" stroke-width="0.8"/>
<text x="650" y="139.6" text-anchor="middle" class="tk">3</text>
<text x="619.45" y="122.9" text-anchor="middle" class="lb">Encourage others</text>
<path d="M33.5 161.8V259.8H171" fill="none" stroke="#4a4a4a" stroke-width="1.05"/>
<line x1="31.7" y1="239" x2="33.5" y2="239" stroke="#333" stroke-width="0.8"/>
<text x="30.7" y="243.2" text-anchor="end" class="tk">2</text>
<line x1="31.7" y1="211" x2="33.5" y2="211" stroke="#333" stroke-width="0.8"/>
<text x="30.7" y="215.2" text-anchor="end" class="tk">4</text>
<line x1="31.7" y1="183" x2="33.5" y2="183" stroke="#333" stroke-width="0.8"/>
<text x="30.7" y="187.2" text-anchor="end" class="tk">6</text>
<line x1="59.3" y1="259.8" x2="59.3" y2="261.6" stroke="#333" stroke-width="0.8"/>
<path fill="#4d4d4d" transform="translate(56.52,270.30) scale(0.00488,-0.00488)" d="M763 0H583V1147Q518 1085 412 1023Q307 961 223 930V1104Q374 1175 487 1276Q600 1377 647 1472H763Z"/>
<line x1="102.25" y1="259.8" x2="102.25" y2="261.6" stroke="#333" stroke-width="0.8"/>
<text x="102.25" y="270.3" text-anchor="middle" class="tk">2</text>
<line x1="145.2" y1="259.8" x2="145.2" y2="261.6" stroke="#333" stroke-width="0.8"/>
<text x="145.2" y="270.3" text-anchor="middle" class="tk">3</text>
<text x="100.85" y="255.2" text-anchor="middle" class="lb">Seek resources</text>
<path d="M199.5 161.8V259.8H337" fill="none" stroke="#4a4a4a" stroke-width="1.05"/>
<line x1="197.7" y1="239.2" x2="199.5" y2="239.2" stroke="#333" stroke-width="0.8"/>
<text x="196.7" y="243.4" text-anchor="end" class="tk">2</text>
<line x1="197.7" y1="211.1" x2="199.5" y2="211.1" stroke="#333" stroke-width="0.8"/>
<text x="196.7" y="215.3" text-anchor="end" class="tk">4</text>
<line x1="197.7" y1="183" x2="199.5" y2="183" stroke="#333" stroke-width="0.8"/>
<text x="196.7" y="187.2" text-anchor="end" class="tk">6</text>
<line x1="225.3" y1="259.8" x2="225.3" y2="261.6" stroke="#333" stroke-width="0.8"/>
<path fill="#4d4d4d" transform="translate(222.52,270.30) scale(0.00488,-0.00488)" d="M763 0H583V1147Q518 1085 412 1023Q307 961 223 930V1104Q374 1175 487 1276Q600 1377 647 1472H763Z"/>
<line x1="268.25" y1="259.8" x2="268.25" y2="261.6" stroke="#333" stroke-width="0.8"/>
<text x="268.25" y="270.3" text-anchor="middle" class="tk">2</text>
<line x1="311.2" y1="259.8" x2="311.2" y2="261.6" stroke="#333" stroke-width="0.8"/>
<text x="311.2" y="270.3" text-anchor="middle" class="tk">3</text>
<text x="270.2" y="255.5" text-anchor="middle" class="lb">Intervene</text>
<path d="M365.5 161.8V259.8H503" fill="none" stroke="#4a4a4a" stroke-width="1.05"/>
<line x1="363.7" y1="239.2" x2="365.5" y2="239.2" stroke="#333" stroke-width="0.8"/>
<text x="362.7" y="243.4" text-anchor="end" class="tk">2</text>
<line x1="363.7" y1="211.1" x2="365.5" y2="211.1" stroke="#333" stroke-width="0.8"/>
<text x="362.7" y="215.3" text-anchor="end" class="tk">4</text>
<line x1="363.7" y1="183" x2="365.5" y2="183" stroke="#333" stroke-width="0.8"/>
<text x="362.7" y="187.2" text-anchor="end" class="tk">6</text>
<line x1="391.3" y1="259.8" x2="391.3" y2="261.6" stroke="#333" stroke-width="0.8"/>
<path fill="#4d4d4d" transform="translate(388.52,270.30) scale(0.00488,-0.00488)" d="M763 0H583V1147Q518 1085 412 1023Q307 961 223 930V1104Q374 1175 487 1276Q600 1377 647 1472H763Z"/>
<line x1="434.25" y1="259.8" x2="434.25" y2="261.6" stroke="#333" stroke-width="0.8"/>
<text x="434.25" y="270.3" text-anchor="middle" class="tk">2</text>
<line x1="477.2" y1="259.8" x2="477.2" y2="261.6" stroke="#333" stroke-width="0.8"/>
<text x="477.2" y="270.3" text-anchor="middle" class="tk">3</text>
<text x="432.65" y="253.8" text-anchor="middle" class="lb">Report</text>
<path d="M531.5 161.8V259.8H669" fill="none" stroke="#4a4a4a" stroke-width="1.05"/>
<line x1="529.7" y1="239.2" x2="531.5" y2="239.2" stroke="#333" stroke-width="0.8"/>
<text x="528.7" y="243.4" text-anchor="end" class="tk">2</text>
<line x1="529.7" y1="211.1" x2="531.5" y2="211.1" stroke="#333" stroke-width="0.8"/>
<text x="528.7" y="215.3" text-anchor="end" class="tk">4</text>
<line x1="529.7" y1="183" x2="531.5" y2="183" stroke="#333" stroke-width="0.8"/>
<text x="528.7" y="187.2" text-anchor="end" class="tk">6</text>
<line x1="557.3" y1="259.8" x2="557.3" y2="261.6" stroke="#333" stroke-width="0.8"/>
<path fill="#4d4d4d" transform="translate(554.52,270.30) scale(0.00488,-0.00488)" d="M763 0H583V1147Q518 1085 412 1023Q307 961 223 930V1104Q374 1175 487 1276Q600 1377 647 1472H763Z"/>
<line x1="600.25" y1="259.8" x2="600.25" y2="261.6" stroke="#333" stroke-width="0.8"/>
<text x="600.25" y="270.3" text-anchor="middle" class="tk">2</text>
<line x1="643.2" y1="259.8" x2="643.2" y2="261.6" stroke="#333" stroke-width="0.8"/>
<text x="643.2" y="270.3" text-anchor="middle" class="tk">3</text>
<text x="600.1" y="255.3" text-anchor="middle" class="lb">Encourage others</text>
<text x="12" y="23.8" class="ti">a) Knowledge &amp; self-efficacy</text>
<text x="30.7" y="154.2" class="ti">b) Behavioral intention</text>
<text transform="translate(9.0,141.6) rotate(-90)" text-anchor="middle" class="big" style="font-size:13.4px">Response</text>
<text x="331.1" y="289.9" text-anchor="middle" class="big">Survey wave</text>
<text x="239.9" y="10.7" class="big">Survey wave</text>
<line x1="335.35" y1="0" x2="335.35" y2="10.5" stroke="#414487" stroke-width="0.8"/>
<rect x="330.5" y="2.3" width="9.7" height="6.2" fill="#fff" stroke="#414487" stroke-width="0.8"/>
<line x1="330" y1="5.4" x2="340.7" y2="5.4" stroke="#414487" stroke-width="1.5"/>
<path fill="#000" transform="translate(349.60,9.90) scale(0.00566,-0.00566)" d="M763 0H583V1147Q518 1085 412 1023Q307 961 223 930V1104Q374 1175 487 1276Q600 1377 647 1472H763Z"/>
<line x1="370.35" y1="0" x2="370.35" y2="10.5" stroke="#26838E" stroke-width="0.8"/>
<rect x="365.5" y="2.3" width="9.7" height="6.2" fill="#fff" stroke="#26838E" stroke-width="0.8"/>
<line x1="365" y1="5.4" x2="375.7" y2="5.4" stroke="#26838E" stroke-width="1.5"/>
<text x="384.3" y="9.9" class="lg">2</text>
<line x1="405.25" y1="0" x2="405.25" y2="10.5" stroke="#43BF71" stroke-width="0.8"/>
<rect x="400.4" y="2.3" width="9.7" height="6.2" fill="#fff" stroke="#43BF71" stroke-width="0.8"/>
<line x1="399.9" y1="5.4" x2="410.6" y2="5.4" stroke="#43BF71" stroke-width="1.5"/>
<text x="418.8" y="9.9" class="lg">3</text></g>
</svg></body></html>
